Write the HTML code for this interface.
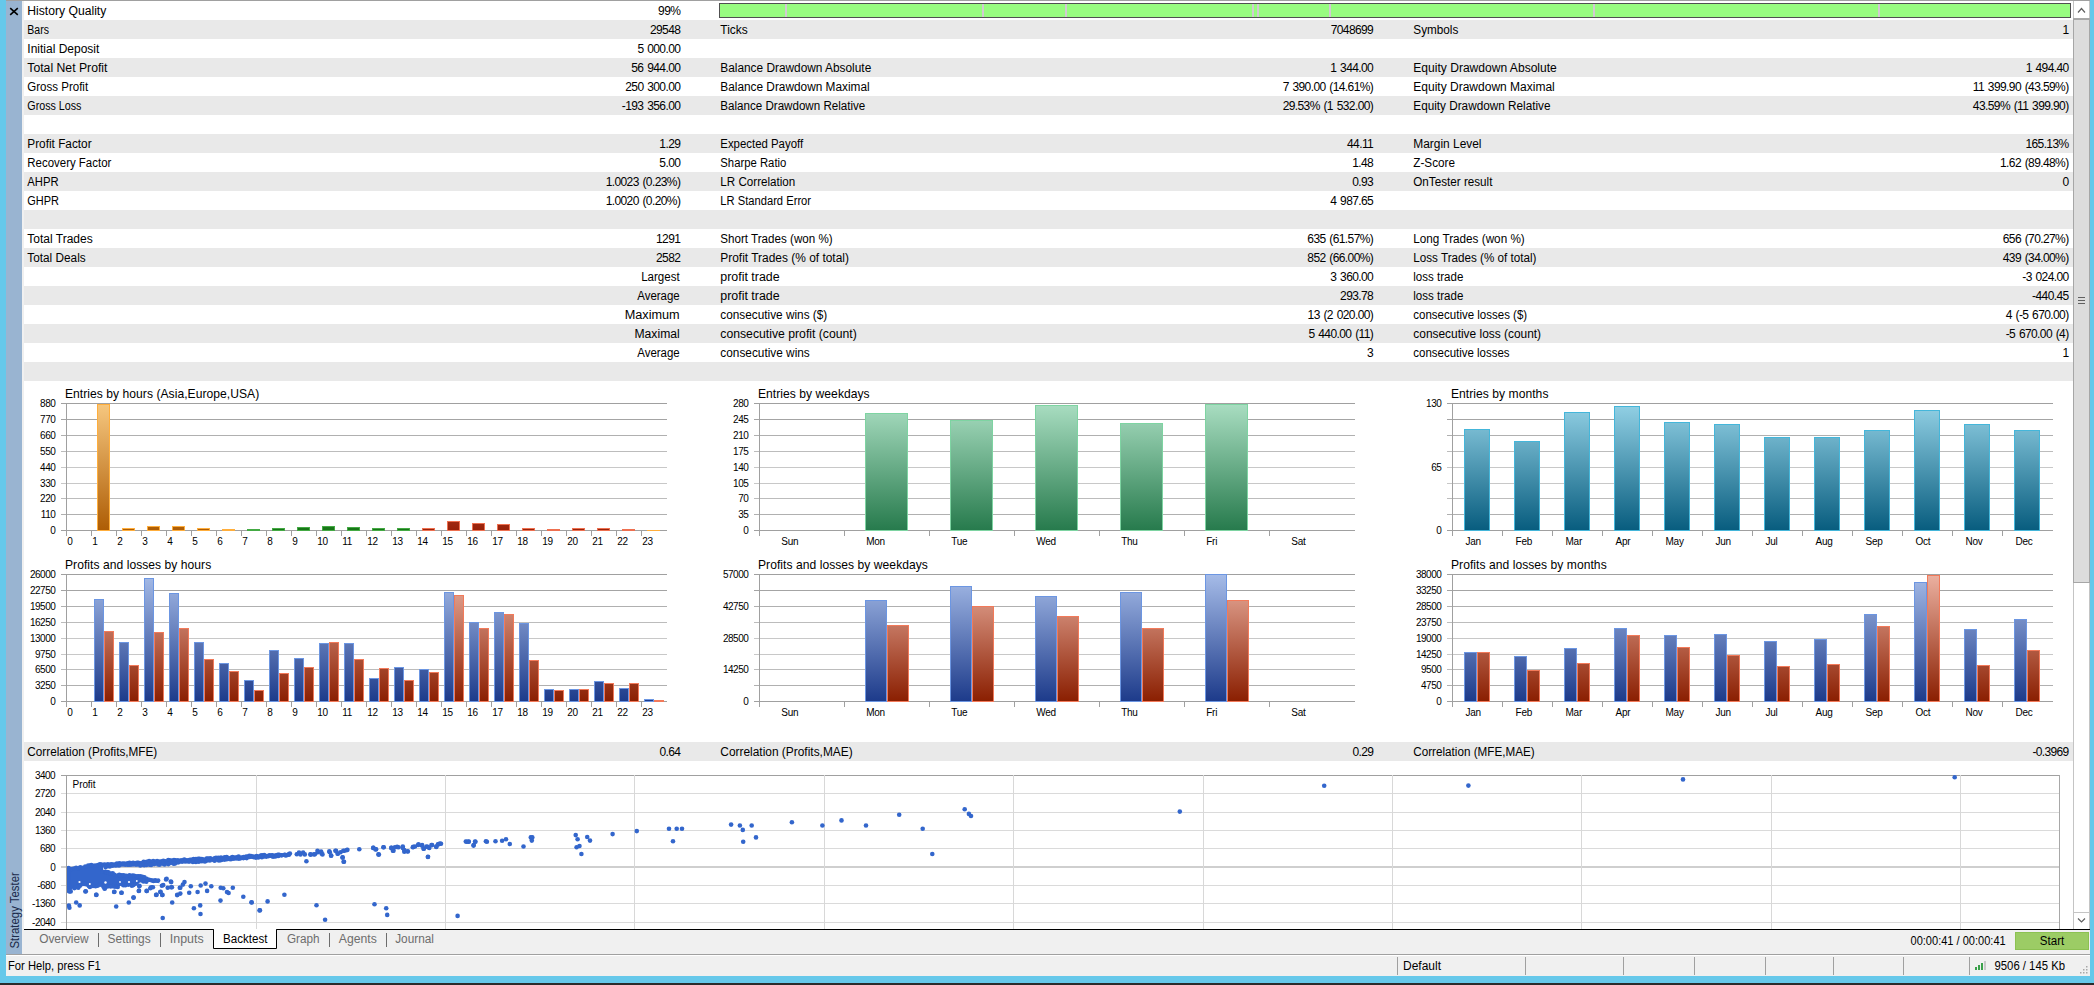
<!DOCTYPE html>
<html><head><meta charset="utf-8"><title>Strategy Tester</title>
<style>
html,body{margin:0;padding:0;width:2094px;height:985px;overflow:hidden;background:#fff;}
svg{display:block;font-family:"Liberation Sans", sans-serif;}
</style></head><body>
<svg width="2094" height="985" viewBox="0 0 2094 985" font-family='"Liberation Sans", sans-serif' shape-rendering="auto"><defs><linearGradient id="gOr" gradientUnits="userSpaceOnUse" x1="0" y1="403" x2="0" y2="531"><stop offset="0" stop-color="#f7c880"/><stop offset="1" stop-color="#ad5c04"/></linearGradient><linearGradient id="gGrH" gradientUnits="userSpaceOnUse" x1="0" y1="403" x2="0" y2="531"><stop offset="0" stop-color="#9ad89a"/><stop offset="1" stop-color="#157515"/></linearGradient><linearGradient id="gRdH" gradientUnits="userSpaceOnUse" x1="0" y1="403" x2="0" y2="531"><stop offset="0" stop-color="#eaa090"/><stop offset="1" stop-color="#982008"/></linearGradient><linearGradient id="gGr" gradientUnits="userSpaceOnUse" x1="0" y1="403" x2="0" y2="531"><stop offset="0" stop-color="#aadec2"/><stop offset="1" stop-color="#267a4c"/></linearGradient><linearGradient id="gTl" gradientUnits="userSpaceOnUse" x1="0" y1="403" x2="0" y2="531"><stop offset="0" stop-color="#94d2e6"/><stop offset="1" stop-color="#075c7e"/></linearGradient><linearGradient id="gBl" gradientUnits="userSpaceOnUse" x1="0" y1="574" x2="0" y2="702"><stop offset="0" stop-color="#a6bce8"/><stop offset="1" stop-color="#1c3a8a"/></linearGradient><linearGradient id="gRd" gradientUnits="userSpaceOnUse" x1="0" y1="574" x2="0" y2="702"><stop offset="0" stop-color="#ecb2a2"/><stop offset="1" stop-color="#8a1e00"/></linearGradient><clipPath id="scClip"><rect x="67" y="760" width="1992" height="169"/></clipPath></defs><rect x="0" y="0" width="2094" height="985" fill="#ffffff" />
<rect x="0" y="0" width="6" height="983" fill="#66c8ea" />
<rect x="2090" y="0" width="4" height="983" fill="#66c8ea" />
<rect x="0" y="976" width="2094" height="7" fill="#66c8ea" />
<rect x="0" y="983" width="2094" height="2" fill="#2b2b2b" />
<rect x="6" y="0" width="2084" height="1" fill="#a0a0a0"/>
<rect x="6" y="1" width="16" height="953" fill="#99b4d1" />
<rect x="22" y="1" width="2" height="929" fill="#f0f0f0" />
<path d="M10.2,8.2 L17.8,14.8 M17.8,8.2 L10.2,14.8" stroke="#000" stroke-width="1.6" fill="none"/>
<rect x="24" y="1" width="2049" height="19" fill="#ffffff" />
<rect x="24" y="20" width="2049" height="19" fill="#e9e9e9" />
<rect x="24" y="39" width="2049" height="19" fill="#ffffff" />
<rect x="24" y="58" width="2049" height="19" fill="#e9e9e9" />
<rect x="24" y="77" width="2049" height="19" fill="#ffffff" />
<rect x="24" y="96" width="2049" height="19" fill="#e9e9e9" />
<rect x="24" y="115" width="2049" height="19" fill="#ffffff" />
<rect x="24" y="134" width="2049" height="19" fill="#e9e9e9" />
<rect x="24" y="153" width="2049" height="19" fill="#ffffff" />
<rect x="24" y="172" width="2049" height="19" fill="#e9e9e9" />
<rect x="24" y="191" width="2049" height="19" fill="#ffffff" />
<rect x="24" y="210" width="2049" height="19" fill="#e9e9e9" />
<rect x="24" y="229" width="2049" height="19" fill="#ffffff" />
<rect x="24" y="248" width="2049" height="19" fill="#e9e9e9" />
<rect x="24" y="267" width="2049" height="19" fill="#ffffff" />
<rect x="24" y="286" width="2049" height="19" fill="#e9e9e9" />
<rect x="24" y="305" width="2049" height="19" fill="#ffffff" />
<rect x="24" y="324" width="2049" height="19" fill="#e9e9e9" />
<rect x="24" y="343" width="2049" height="19" fill="#ffffff" />
<rect x="24" y="362" width="2049" height="19" fill="#e9e9e9" />
<text x="27.3" y="15" font-size="12" text-anchor="start" fill="#000" textLength="79.02" lengthAdjust="spacingAndGlyphs" >History Quality</text>
<text x="680.3000000000001" y="15" font-size="12" text-anchor="end" fill="#000" letter-spacing="-0.6" word-spacing="1.0">99%</text>
<text x="27.3" y="34" font-size="12" text-anchor="start" fill="#000" textLength="21.67" lengthAdjust="spacingAndGlyphs" >Bars</text>
<text x="680.3000000000001" y="34" font-size="12" text-anchor="end" fill="#000" letter-spacing="-0.6" word-spacing="1.0">29548</text>
<text x="27.3" y="53" font-size="12" text-anchor="start" fill="#000" textLength="72.03" lengthAdjust="spacingAndGlyphs" >Initial Deposit</text>
<text x="680.3000000000001" y="53" font-size="12" text-anchor="end" fill="#000" letter-spacing="-0.6" word-spacing="1.0">5 000.00</text>
<text x="27.3" y="72" font-size="12" text-anchor="start" fill="#000" textLength="80.17" lengthAdjust="spacingAndGlyphs" >Total Net Profit</text>
<text x="680.3000000000001" y="72" font-size="12" text-anchor="end" fill="#000" letter-spacing="-0.6" word-spacing="1.0">56 944.00</text>
<text x="27.3" y="91" font-size="12" text-anchor="start" fill="#000" textLength="60.83" lengthAdjust="spacingAndGlyphs" >Gross Profit</text>
<text x="680.3000000000001" y="91" font-size="12" text-anchor="end" fill="#000" letter-spacing="-0.6" word-spacing="1.0">250 300.00</text>
<text x="27.3" y="110" font-size="12" text-anchor="start" fill="#000" textLength="54.17" lengthAdjust="spacingAndGlyphs" >Gross Loss</text>
<text x="680.3000000000001" y="110" font-size="12" text-anchor="end" fill="#000" letter-spacing="-0.6" word-spacing="1.0">-193 356.00</text>
<text x="27.3" y="148" font-size="12" text-anchor="start" fill="#000" textLength="64.33" lengthAdjust="spacingAndGlyphs" >Profit Factor</text>
<text x="680.3000000000001" y="148" font-size="12" text-anchor="end" fill="#000" letter-spacing="-0.6" word-spacing="1.0">1.29</text>
<text x="27.3" y="167" font-size="12" text-anchor="start" fill="#000" textLength="84.02" lengthAdjust="spacingAndGlyphs" >Recovery Factor</text>
<text x="680.3000000000001" y="167" font-size="12" text-anchor="end" fill="#000" letter-spacing="-0.6" word-spacing="1.0">5.00</text>
<text x="27.3" y="186" font-size="12" text-anchor="start" fill="#000" textLength="31.34" lengthAdjust="spacingAndGlyphs" >AHPR</text>
<text x="680.3000000000001" y="186" font-size="12" text-anchor="end" fill="#000" letter-spacing="-0.6" word-spacing="1.0">1.0023 (0.23%)</text>
<text x="27.3" y="205" font-size="12" text-anchor="start" fill="#000" textLength="31.67" lengthAdjust="spacingAndGlyphs" >GHPR</text>
<text x="680.3000000000001" y="205" font-size="12" text-anchor="end" fill="#000" letter-spacing="-0.6" word-spacing="1.0">1.0020 (0.20%)</text>
<text x="27.3" y="243" font-size="12" text-anchor="start" fill="#000" textLength="65.36" lengthAdjust="spacingAndGlyphs" >Total Trades</text>
<text x="680.3000000000001" y="243" font-size="12" text-anchor="end" fill="#000" letter-spacing="-0.6" word-spacing="1.0">1291</text>
<text x="27.3" y="262" font-size="12" text-anchor="start" fill="#000" textLength="58.36" lengthAdjust="spacingAndGlyphs" >Total Deals</text>
<text x="680.3000000000001" y="262" font-size="12" text-anchor="end" fill="#000" letter-spacing="-0.6" word-spacing="1.0">2582</text>
<text x="679.7" y="281" font-size="12" text-anchor="end" fill="#000" textLength="38.52" lengthAdjust="spacingAndGlyphs" >Largest</text>
<text x="679.7" y="300" font-size="12" text-anchor="end" fill="#000" textLength="42.47" lengthAdjust="spacingAndGlyphs" >Average</text>
<text x="679.7" y="319" font-size="12" text-anchor="end" fill="#000" textLength="55.02" lengthAdjust="spacingAndGlyphs" >Maximum</text>
<text x="679.7" y="338" font-size="12" text-anchor="end" fill="#000" textLength="45.19" lengthAdjust="spacingAndGlyphs" >Maximal</text>
<text x="679.7" y="357" font-size="12" text-anchor="end" fill="#000" textLength="42.47" lengthAdjust="spacingAndGlyphs" >Average</text>
<text x="720.3" y="34" font-size="12" text-anchor="start" fill="#000" textLength="27.36" lengthAdjust="spacingAndGlyphs" >Ticks</text>
<text x="1373.1999999999998" y="34" font-size="12" text-anchor="end" fill="#000" letter-spacing="-0.6" word-spacing="1.0">7048699</text>
<text x="720.3" y="72" font-size="12" text-anchor="start" fill="#000" textLength="150.95" lengthAdjust="spacingAndGlyphs" >Balance Drawdown Absolute</text>
<text x="1373.1999999999998" y="72" font-size="12" text-anchor="end" fill="#000" letter-spacing="-0.6" word-spacing="1.0">1 344.00</text>
<text x="720.3" y="91" font-size="12" text-anchor="start" fill="#000" textLength="149.31" lengthAdjust="spacingAndGlyphs" >Balance Drawdown Maximal</text>
<text x="1373.1999999999998" y="91" font-size="12" text-anchor="end" fill="#000" letter-spacing="-0.6" word-spacing="1.0">7 390.00 (14.61%)</text>
<text x="720.3" y="110" font-size="12" text-anchor="start" fill="#000" textLength="144.98" lengthAdjust="spacingAndGlyphs" >Balance Drawdown Relative</text>
<text x="1373.1999999999998" y="110" font-size="12" text-anchor="end" fill="#000" letter-spacing="-0.6" word-spacing="1.0">29.53% (1 532.00)</text>
<text x="720.3" y="148" font-size="12" text-anchor="start" fill="#000" textLength="82.83" lengthAdjust="spacingAndGlyphs" >Expected Payoff</text>
<text x="1373.1999999999998" y="148" font-size="12" text-anchor="end" fill="#000" letter-spacing="-0.6" word-spacing="1.0">44.11</text>
<text x="720.3" y="167" font-size="12" text-anchor="start" fill="#000" textLength="66.03" lengthAdjust="spacingAndGlyphs" >Sharpe Ratio</text>
<text x="1373.1999999999998" y="167" font-size="12" text-anchor="end" fill="#000" letter-spacing="-0.6" word-spacing="1.0">1.48</text>
<text x="720.3" y="186" font-size="12" text-anchor="start" fill="#000" textLength="74.97" lengthAdjust="spacingAndGlyphs" >LR Correlation</text>
<text x="1373.1999999999998" y="186" font-size="12" text-anchor="end" fill="#000" letter-spacing="-0.6" word-spacing="1.0">0.93</text>
<text x="720.3" y="205" font-size="12" text-anchor="start" fill="#000" textLength="90.76" lengthAdjust="spacingAndGlyphs" >LR Standard Error</text>
<text x="1373.1999999999998" y="205" font-size="12" text-anchor="end" fill="#000" letter-spacing="-0.6" word-spacing="1.0">4 987.65</text>
<text x="720.3" y="243" font-size="12" text-anchor="start" fill="#000" textLength="112.33" lengthAdjust="spacingAndGlyphs" >Short Trades (won %)</text>
<text x="1373.1999999999998" y="243" font-size="12" text-anchor="end" fill="#000" letter-spacing="-0.6" word-spacing="1.0">635 (61.57%)</text>
<text x="720.3" y="262" font-size="12" text-anchor="start" fill="#000" textLength="128.64" lengthAdjust="spacingAndGlyphs" >Profit Trades (% of total)</text>
<text x="1373.1999999999998" y="262" font-size="12" text-anchor="end" fill="#000" letter-spacing="-0.6" word-spacing="1.0">852 (66.00%)</text>
<text x="720.3" y="281" font-size="12" text-anchor="start" fill="#000" textLength="59.34" lengthAdjust="spacingAndGlyphs" >profit trade</text>
<text x="1373.1999999999998" y="281" font-size="12" text-anchor="end" fill="#000" letter-spacing="-0.6" word-spacing="1.0">3 360.00</text>
<text x="720.3" y="300" font-size="12" text-anchor="start" fill="#000" textLength="59.34" lengthAdjust="spacingAndGlyphs" >profit trade</text>
<text x="1373.1999999999998" y="300" font-size="12" text-anchor="end" fill="#000" letter-spacing="-0.6" word-spacing="1.0">293.78</text>
<text x="720.3" y="319" font-size="12" text-anchor="start" fill="#000" textLength="107.0" lengthAdjust="spacingAndGlyphs" >consecutive wins ($)</text>
<text x="1373.1999999999998" y="319" font-size="12" text-anchor="end" fill="#000" letter-spacing="-0.6" word-spacing="1.0">13 (2 020.00)</text>
<text x="720.3" y="338" font-size="12" text-anchor="start" fill="#000" textLength="136.53" lengthAdjust="spacingAndGlyphs" >consecutive profit (count)</text>
<text x="1373.1999999999998" y="338" font-size="12" text-anchor="end" fill="#000" letter-spacing="-0.6" word-spacing="1.0">5 440.00 (11)</text>
<text x="720.3" y="357" font-size="12" text-anchor="start" fill="#000" textLength="89.5" lengthAdjust="spacingAndGlyphs" >consecutive wins</text>
<text x="1373.1999999999998" y="357" font-size="12" text-anchor="end" fill="#000" letter-spacing="-0.6" word-spacing="1.0">3</text>
<text x="1413.3" y="34" font-size="12" text-anchor="start" fill="#000" textLength="45.02" lengthAdjust="spacingAndGlyphs" >Symbols</text>
<text x="2068.6" y="34" font-size="12" text-anchor="end" fill="#000" letter-spacing="-0.6" word-spacing="1.0">1</text>
<text x="1413.3" y="72" font-size="12" text-anchor="start" fill="#000" textLength="143.53" lengthAdjust="spacingAndGlyphs" >Equity Drawdown Absolute</text>
<text x="2068.6" y="72" font-size="12" text-anchor="end" fill="#000" letter-spacing="-0.6" word-spacing="1.0">1 494.40</text>
<text x="1413.3" y="91" font-size="12" text-anchor="start" fill="#000" textLength="141.49" lengthAdjust="spacingAndGlyphs" >Equity Drawdown Maximal</text>
<text x="2068.6" y="91" font-size="12" text-anchor="end" fill="#000" letter-spacing="-0.6" word-spacing="1.0">11 399.90 (43.59%)</text>
<text x="1413.3" y="110" font-size="12" text-anchor="start" fill="#000" textLength="137.16" lengthAdjust="spacingAndGlyphs" >Equity Drawdown Relative</text>
<text x="2068.6" y="110" font-size="12" text-anchor="end" fill="#000" letter-spacing="-0.6" word-spacing="1.0">43.59% (11 399.90)</text>
<text x="1413.3" y="148" font-size="12" text-anchor="start" fill="#000" textLength="68.2" lengthAdjust="spacingAndGlyphs" >Margin Level</text>
<text x="2068.6" y="148" font-size="12" text-anchor="end" fill="#000" letter-spacing="-0.6" word-spacing="1.0">165.13%</text>
<text x="1413.3" y="167" font-size="12" text-anchor="start" fill="#000" textLength="41.67" lengthAdjust="spacingAndGlyphs" >Z-Score</text>
<text x="2068.6" y="167" font-size="12" text-anchor="end" fill="#000" letter-spacing="-0.6" word-spacing="1.0">1.62 (89.48%)</text>
<text x="1413.3" y="186" font-size="12" text-anchor="start" fill="#000" textLength="79.14" lengthAdjust="spacingAndGlyphs" >OnTester result</text>
<text x="2068.6" y="186" font-size="12" text-anchor="end" fill="#000" letter-spacing="-0.6" word-spacing="1.0">0</text>
<text x="1413.3" y="243" font-size="12" text-anchor="start" fill="#000" textLength="111.45" lengthAdjust="spacingAndGlyphs" >Long Trades (won %)</text>
<text x="2068.6" y="243" font-size="12" text-anchor="end" fill="#000" letter-spacing="-0.6" word-spacing="1.0">656 (70.27%)</text>
<text x="1413.3" y="262" font-size="12" text-anchor="start" fill="#000" textLength="123.09" lengthAdjust="spacingAndGlyphs" >Loss Trades (% of total)</text>
<text x="2068.6" y="262" font-size="12" text-anchor="end" fill="#000" letter-spacing="-0.6" word-spacing="1.0">439 (34.00%)</text>
<text x="1413.3" y="281" font-size="12" text-anchor="start" fill="#000" textLength="50.02" lengthAdjust="spacingAndGlyphs" >loss trade</text>
<text x="2068.6" y="281" font-size="12" text-anchor="end" fill="#000" letter-spacing="-0.6" word-spacing="1.0">-3 024.00</text>
<text x="1413.3" y="300" font-size="12" text-anchor="start" fill="#000" textLength="50.02" lengthAdjust="spacingAndGlyphs" >loss trade</text>
<text x="2068.6" y="300" font-size="12" text-anchor="end" fill="#000" letter-spacing="-0.6" word-spacing="1.0">-440.45</text>
<text x="1413.3" y="319" font-size="12" text-anchor="start" fill="#000" textLength="113.9" lengthAdjust="spacingAndGlyphs" >consecutive losses ($)</text>
<text x="2068.6" y="319" font-size="12" text-anchor="end" fill="#000" letter-spacing="-0.6" word-spacing="1.0">4 (-5 670.00)</text>
<text x="1413.3" y="338" font-size="12" text-anchor="start" fill="#000" textLength="127.8" lengthAdjust="spacingAndGlyphs" >consecutive loss (count)</text>
<text x="2068.6" y="338" font-size="12" text-anchor="end" fill="#000" letter-spacing="-0.6" word-spacing="1.0">-5 670.00 (4)</text>
<text x="1413.3" y="357" font-size="12" text-anchor="start" fill="#000" textLength="96.3" lengthAdjust="spacingAndGlyphs" >consecutive losses</text>
<text x="2068.6" y="357" font-size="12" text-anchor="end" fill="#000" letter-spacing="-0.6" word-spacing="1.0">1</text>
<rect x="719.5" y="3.5" width="1351" height="14" fill="#98fc80" stroke="#505050" stroke-width="1"/>
<rect x="785" y="4" width="2" height="13" fill="#d2cad2" />
<rect x="982" y="4" width="2" height="13" fill="#d2cad2" />
<rect x="1065" y="4" width="2" height="13" fill="#d2cad2" />
<rect x="1252" y="4" width="2" height="13" fill="#d2cad2" />
<rect x="1257" y="4" width="2" height="13" fill="#d2cad2" />
<rect x="1329" y="4" width="2" height="13" fill="#d2cad2" />
<rect x="1593" y="4" width="2" height="13" fill="#d2cad2" />
<rect x="1878" y="4" width="2" height="13" fill="#d2cad2" />
<rect x="61" y="403" width="606" height="1" fill="#a0a0a0"/>
<rect x="61" y="419" width="606" height="1" fill="#a4a4a4"/>
<rect x="61" y="435" width="606" height="1" fill="#b0b0b0"/>
<rect x="61" y="451" width="606" height="1" fill="#bcbcbc"/>
<rect x="61" y="467" width="606" height="1" fill="#c8c8c8"/>
<rect x="61" y="483" width="606" height="1" fill="#c8c8c8"/>
<rect x="61" y="498" width="606" height="1" fill="#bcbcbc"/>
<rect x="61" y="514" width="606" height="1" fill="#b0b0b0"/>
<rect x="61" y="530" width="606" height="1" fill="#a0a0a0"/>
<rect x="66" y="403" width="1" height="133" fill="#a0a0a0"/>
<rect x="91" y="530" width="1" height="6" fill="#a0a0a0"/>
<rect x="116" y="530" width="1" height="6" fill="#a0a0a0"/>
<rect x="141" y="530" width="1" height="6" fill="#a0a0a0"/>
<rect x="166" y="530" width="1" height="6" fill="#a0a0a0"/>
<rect x="191" y="530" width="1" height="6" fill="#a0a0a0"/>
<rect x="216" y="530" width="1" height="6" fill="#a0a0a0"/>
<rect x="241" y="530" width="1" height="6" fill="#a0a0a0"/>
<rect x="266" y="530" width="1" height="6" fill="#a0a0a0"/>
<rect x="291" y="530" width="1" height="6" fill="#a0a0a0"/>
<rect x="316" y="530" width="1" height="6" fill="#a0a0a0"/>
<rect x="341" y="530" width="1" height="6" fill="#a0a0a0"/>
<rect x="366" y="530" width="1" height="6" fill="#a0a0a0"/>
<rect x="391" y="530" width="1" height="6" fill="#a0a0a0"/>
<rect x="416" y="530" width="1" height="6" fill="#a0a0a0"/>
<rect x="441" y="530" width="1" height="6" fill="#a0a0a0"/>
<rect x="466" y="530" width="1" height="6" fill="#a0a0a0"/>
<rect x="491" y="530" width="1" height="6" fill="#a0a0a0"/>
<rect x="516" y="530" width="1" height="6" fill="#a0a0a0"/>
<rect x="541" y="530" width="1" height="6" fill="#a0a0a0"/>
<rect x="566" y="530" width="1" height="6" fill="#a0a0a0"/>
<rect x="591" y="530" width="1" height="6" fill="#a0a0a0"/>
<rect x="616" y="530" width="1" height="6" fill="#a0a0a0"/>
<rect x="641" y="530" width="1" height="6" fill="#a0a0a0"/>
<text x="55.3" y="407" font-size="10" text-anchor="end" fill="#000" letter-spacing="-0.5" >880</text>
<text x="55.3" y="423" font-size="10" text-anchor="end" fill="#000" letter-spacing="-0.5" >770</text>
<text x="55.3" y="439" font-size="10" text-anchor="end" fill="#000" letter-spacing="-0.5" >660</text>
<text x="55.3" y="455" font-size="10" text-anchor="end" fill="#000" letter-spacing="-0.5" >550</text>
<text x="55.3" y="471" font-size="10" text-anchor="end" fill="#000" letter-spacing="-0.5" >440</text>
<text x="55.3" y="487" font-size="10" text-anchor="end" fill="#000" letter-spacing="-0.5" >330</text>
<text x="55.3" y="502" font-size="10" text-anchor="end" fill="#000" letter-spacing="-0.5" >220</text>
<text x="55.3" y="518" font-size="10" text-anchor="end" fill="#000" letter-spacing="-0.5" >110</text>
<text x="55.3" y="534" font-size="10" text-anchor="end" fill="#000" letter-spacing="-0.5" >0</text>
<text x="65.0" y="397.5" font-size="12.1" text-anchor="start" fill="#000" letter-spacing="0.04" >Entries by hours (Asia,Europe,USA)</text>
<text x="67.3" y="545" font-size="10" text-anchor="start" fill="#000" letter-spacing="-0.4" >0</text>
<text x="92.3" y="545" font-size="10" text-anchor="start" fill="#000" letter-spacing="-0.4" >1</text>
<text x="117.3" y="545" font-size="10" text-anchor="start" fill="#000" letter-spacing="-0.4" >2</text>
<text x="142.3" y="545" font-size="10" text-anchor="start" fill="#000" letter-spacing="-0.4" >3</text>
<text x="167.3" y="545" font-size="10" text-anchor="start" fill="#000" letter-spacing="-0.4" >4</text>
<text x="192.3" y="545" font-size="10" text-anchor="start" fill="#000" letter-spacing="-0.4" >5</text>
<text x="217.3" y="545" font-size="10" text-anchor="start" fill="#000" letter-spacing="-0.4" >6</text>
<text x="242.3" y="545" font-size="10" text-anchor="start" fill="#000" letter-spacing="-0.4" >7</text>
<text x="267.3" y="545" font-size="10" text-anchor="start" fill="#000" letter-spacing="-0.4" >8</text>
<text x="292.3" y="545" font-size="10" text-anchor="start" fill="#000" letter-spacing="-0.4" >9</text>
<text x="317.3" y="545" font-size="10" text-anchor="start" fill="#000" letter-spacing="-0.4" >10</text>
<text x="342.3" y="545" font-size="10" text-anchor="start" fill="#000" letter-spacing="-0.4" >11</text>
<text x="367.3" y="545" font-size="10" text-anchor="start" fill="#000" letter-spacing="-0.4" >12</text>
<text x="392.3" y="545" font-size="10" text-anchor="start" fill="#000" letter-spacing="-0.4" >13</text>
<text x="417.3" y="545" font-size="10" text-anchor="start" fill="#000" letter-spacing="-0.4" >14</text>
<text x="442.3" y="545" font-size="10" text-anchor="start" fill="#000" letter-spacing="-0.4" >15</text>
<text x="467.3" y="545" font-size="10" text-anchor="start" fill="#000" letter-spacing="-0.4" >16</text>
<text x="492.3" y="545" font-size="10" text-anchor="start" fill="#000" letter-spacing="-0.4" >17</text>
<text x="517.3" y="545" font-size="10" text-anchor="start" fill="#000" letter-spacing="-0.4" >18</text>
<text x="542.3" y="545" font-size="10" text-anchor="start" fill="#000" letter-spacing="-0.4" >19</text>
<text x="567.3" y="545" font-size="10" text-anchor="start" fill="#000" letter-spacing="-0.4" >20</text>
<text x="592.3" y="545" font-size="10" text-anchor="start" fill="#000" letter-spacing="-0.4" >21</text>
<text x="617.3" y="545" font-size="10" text-anchor="start" fill="#000" letter-spacing="-0.4" >22</text>
<text x="642.3" y="545" font-size="10" text-anchor="start" fill="#000" letter-spacing="-0.4" >23</text>
<rect x="97.5" y="404.5" width="12" height="126" fill="url(#gOr)" stroke="#ffae3c" stroke-width="1"/>
<rect x="122.5" y="528.5" width="12" height="2" fill="url(#gOr)" stroke="#ffae3c" stroke-width="1"/>
<rect x="147.5" y="526.5" width="12" height="4" fill="url(#gOr)" stroke="#ffae3c" stroke-width="1"/>
<rect x="172.5" y="526.5" width="12" height="4" fill="url(#gOr)" stroke="#ffae3c" stroke-width="1"/>
<rect x="197.5" y="528.5" width="12" height="2" fill="url(#gOr)" stroke="#ffae3c" stroke-width="1"/>
<rect x="222" y="529" width="13" height="2" fill="#ffae3c" />
<rect x="247" y="529" width="13" height="2" fill="#44aa44" />
<rect x="272.5" y="528.5" width="12" height="2" fill="url(#gGrH)" stroke="#44aa44" stroke-width="1"/>
<rect x="297.5" y="527.5" width="12" height="3" fill="url(#gGrH)" stroke="#44aa44" stroke-width="1"/>
<rect x="322.5" y="526.5" width="12" height="4" fill="url(#gGrH)" stroke="#44aa44" stroke-width="1"/>
<rect x="347.5" y="527.5" width="12" height="3" fill="url(#gGrH)" stroke="#44aa44" stroke-width="1"/>
<rect x="372.5" y="528.5" width="12" height="2" fill="url(#gGrH)" stroke="#44aa44" stroke-width="1"/>
<rect x="397.5" y="528.5" width="12" height="2" fill="url(#gGrH)" stroke="#44aa44" stroke-width="1"/>
<rect x="422.5" y="528.5" width="12" height="2" fill="url(#gRdH)" stroke="#ee7050" stroke-width="1"/>
<rect x="447.5" y="521.5" width="12" height="9" fill="url(#gRdH)" stroke="#ee7050" stroke-width="1"/>
<rect x="472.5" y="523.5" width="12" height="7" fill="url(#gRdH)" stroke="#ee7050" stroke-width="1"/>
<rect x="497.5" y="524.5" width="12" height="6" fill="url(#gRdH)" stroke="#ee7050" stroke-width="1"/>
<rect x="522.5" y="528.5" width="12" height="2" fill="url(#gRdH)" stroke="#ee7050" stroke-width="1"/>
<rect x="547" y="529" width="13" height="2" fill="#ee7050" />
<rect x="572.5" y="528.5" width="12" height="2" fill="url(#gRdH)" stroke="#ee7050" stroke-width="1"/>
<rect x="597.5" y="528.5" width="12" height="2" fill="url(#gRdH)" stroke="#ee7050" stroke-width="1"/>
<rect x="622" y="529" width="13" height="2" fill="#ee7050" />
<rect x="647" y="530" width="13" height="1" fill="#ffae3c" />
<rect x="754" y="403" width="601" height="1" fill="#a0a0a0"/>
<rect x="754" y="419" width="601" height="1" fill="#a4a4a4"/>
<rect x="754" y="435" width="601" height="1" fill="#b0b0b0"/>
<rect x="754" y="451" width="601" height="1" fill="#bcbcbc"/>
<rect x="754" y="467" width="601" height="1" fill="#c8c8c8"/>
<rect x="754" y="483" width="601" height="1" fill="#c8c8c8"/>
<rect x="754" y="498" width="601" height="1" fill="#bcbcbc"/>
<rect x="754" y="514" width="601" height="1" fill="#b0b0b0"/>
<rect x="754" y="530" width="601" height="1" fill="#a0a0a0"/>
<rect x="759" y="403" width="1" height="133" fill="#a0a0a0"/>
<rect x="844" y="530" width="1" height="6" fill="#a0a0a0"/>
<rect x="929" y="530" width="1" height="6" fill="#a0a0a0"/>
<rect x="1014" y="530" width="1" height="6" fill="#a0a0a0"/>
<rect x="1099" y="530" width="1" height="6" fill="#a0a0a0"/>
<rect x="1184" y="530" width="1" height="6" fill="#a0a0a0"/>
<rect x="1269" y="530" width="1" height="6" fill="#a0a0a0"/>
<text x="748.3" y="407" font-size="10" text-anchor="end" fill="#000" letter-spacing="-0.5" >280</text>
<text x="748.3" y="423" font-size="10" text-anchor="end" fill="#000" letter-spacing="-0.5" >245</text>
<text x="748.3" y="439" font-size="10" text-anchor="end" fill="#000" letter-spacing="-0.5" >210</text>
<text x="748.3" y="455" font-size="10" text-anchor="end" fill="#000" letter-spacing="-0.5" >175</text>
<text x="748.3" y="471" font-size="10" text-anchor="end" fill="#000" letter-spacing="-0.5" >140</text>
<text x="748.3" y="487" font-size="10" text-anchor="end" fill="#000" letter-spacing="-0.5" >105</text>
<text x="748.3" y="502" font-size="10" text-anchor="end" fill="#000" letter-spacing="-0.5" >70</text>
<text x="748.3" y="518" font-size="10" text-anchor="end" fill="#000" letter-spacing="-0.5" >35</text>
<text x="748.3" y="534" font-size="10" text-anchor="end" fill="#000" letter-spacing="-0.5" >0</text>
<text x="758.0" y="397.5" font-size="12.1" text-anchor="start" fill="#000" letter-spacing="0.04" >Entries by weekdays</text>
<text x="781.3" y="545" font-size="10" text-anchor="start" fill="#000" letter-spacing="-0.3" >Sun</text>
<text x="866.3" y="545" font-size="10" text-anchor="start" fill="#000" letter-spacing="-0.3" >Mon</text>
<text x="951.3" y="545" font-size="10" text-anchor="start" fill="#000" letter-spacing="-0.3" >Tue</text>
<text x="1036.3" y="545" font-size="10" text-anchor="start" fill="#000" letter-spacing="-0.3" >Wed</text>
<text x="1121.3" y="545" font-size="10" text-anchor="start" fill="#000" letter-spacing="-0.3" >Thu</text>
<text x="1206.3" y="545" font-size="10" text-anchor="start" fill="#000" letter-spacing="-0.3" >Fri</text>
<text x="1291.3" y="545" font-size="10" text-anchor="start" fill="#000" letter-spacing="-0.3" >Sat</text>
<rect x="865.5" y="413.5" width="42" height="117" fill="url(#gGr)" stroke="#7ed4a2" stroke-width="1"/>
<rect x="950.5" y="420.5" width="42" height="110" fill="url(#gGr)" stroke="#7ed4a2" stroke-width="1"/>
<rect x="1035.5" y="405.5" width="42" height="125" fill="url(#gGr)" stroke="#7ed4a2" stroke-width="1"/>
<rect x="1120.5" y="423.5" width="42" height="107" fill="url(#gGr)" stroke="#7ed4a2" stroke-width="1"/>
<rect x="1205.5" y="404.5" width="42" height="126" fill="url(#gGr)" stroke="#7ed4a2" stroke-width="1"/>
<rect x="1447" y="403" width="606" height="1" fill="#a0a0a0"/>
<rect x="1447" y="419" width="606" height="1" fill="#a4a4a4"/>
<rect x="1447" y="435" width="606" height="1" fill="#b0b0b0"/>
<rect x="1447" y="451" width="606" height="1" fill="#bcbcbc"/>
<rect x="1447" y="467" width="606" height="1" fill="#c8c8c8"/>
<rect x="1447" y="483" width="606" height="1" fill="#c8c8c8"/>
<rect x="1447" y="498" width="606" height="1" fill="#bcbcbc"/>
<rect x="1447" y="514" width="606" height="1" fill="#b0b0b0"/>
<rect x="1447" y="530" width="606" height="1" fill="#a0a0a0"/>
<rect x="1452" y="403" width="1" height="133" fill="#a0a0a0"/>
<rect x="1502" y="530" width="1" height="6" fill="#a0a0a0"/>
<rect x="1552" y="530" width="1" height="6" fill="#a0a0a0"/>
<rect x="1602" y="530" width="1" height="6" fill="#a0a0a0"/>
<rect x="1652" y="530" width="1" height="6" fill="#a0a0a0"/>
<rect x="1702" y="530" width="1" height="6" fill="#a0a0a0"/>
<rect x="1752" y="530" width="1" height="6" fill="#a0a0a0"/>
<rect x="1802" y="530" width="1" height="6" fill="#a0a0a0"/>
<rect x="1852" y="530" width="1" height="6" fill="#a0a0a0"/>
<rect x="1902" y="530" width="1" height="6" fill="#a0a0a0"/>
<rect x="1952" y="530" width="1" height="6" fill="#a0a0a0"/>
<rect x="2002" y="530" width="1" height="6" fill="#a0a0a0"/>
<text x="1441.3" y="407" font-size="10" text-anchor="end" fill="#000" letter-spacing="-0.5" >130</text>
<text x="1441.3" y="471" font-size="10" text-anchor="end" fill="#000" letter-spacing="-0.5" >65</text>
<text x="1441.3" y="534" font-size="10" text-anchor="end" fill="#000" letter-spacing="-0.5" >0</text>
<text x="1451.0" y="397.5" font-size="12.1" text-anchor="start" fill="#000" letter-spacing="0.04" >Entries by months</text>
<text x="1465.6" y="545" font-size="10" text-anchor="start" fill="#000" letter-spacing="-0.3" >Jan</text>
<text x="1515.6" y="545" font-size="10" text-anchor="start" fill="#000" letter-spacing="-0.3" >Feb</text>
<text x="1565.6" y="545" font-size="10" text-anchor="start" fill="#000" letter-spacing="-0.3" >Mar</text>
<text x="1615.6" y="545" font-size="10" text-anchor="start" fill="#000" letter-spacing="-0.3" >Apr</text>
<text x="1665.6" y="545" font-size="10" text-anchor="start" fill="#000" letter-spacing="-0.3" >May</text>
<text x="1715.6" y="545" font-size="10" text-anchor="start" fill="#000" letter-spacing="-0.3" >Jun</text>
<text x="1765.6" y="545" font-size="10" text-anchor="start" fill="#000" letter-spacing="-0.3" >Jul</text>
<text x="1815.6" y="545" font-size="10" text-anchor="start" fill="#000" letter-spacing="-0.3" >Aug</text>
<text x="1865.6" y="545" font-size="10" text-anchor="start" fill="#000" letter-spacing="-0.3" >Sep</text>
<text x="1915.6" y="545" font-size="10" text-anchor="start" fill="#000" letter-spacing="-0.3" >Oct</text>
<text x="1965.6" y="545" font-size="10" text-anchor="start" fill="#000" letter-spacing="-0.3" >Nov</text>
<text x="2015.6" y="545" font-size="10" text-anchor="start" fill="#000" letter-spacing="-0.3" >Dec</text>
<rect x="1464.5" y="429.5" width="25" height="101" fill="url(#gTl)" stroke="#44b6da" stroke-width="1"/>
<rect x="1514.5" y="441.5" width="25" height="89" fill="url(#gTl)" stroke="#44b6da" stroke-width="1"/>
<rect x="1564.5" y="412.5" width="25" height="118" fill="url(#gTl)" stroke="#44b6da" stroke-width="1"/>
<rect x="1614.5" y="406.5" width="25" height="124" fill="url(#gTl)" stroke="#44b6da" stroke-width="1"/>
<rect x="1664.5" y="422.5" width="25" height="108" fill="url(#gTl)" stroke="#44b6da" stroke-width="1"/>
<rect x="1714.5" y="424.5" width="25" height="106" fill="url(#gTl)" stroke="#44b6da" stroke-width="1"/>
<rect x="1764.5" y="437.5" width="25" height="93" fill="url(#gTl)" stroke="#44b6da" stroke-width="1"/>
<rect x="1814.5" y="437.5" width="25" height="93" fill="url(#gTl)" stroke="#44b6da" stroke-width="1"/>
<rect x="1864.5" y="430.5" width="25" height="100" fill="url(#gTl)" stroke="#44b6da" stroke-width="1"/>
<rect x="1914.5" y="410.5" width="25" height="120" fill="url(#gTl)" stroke="#44b6da" stroke-width="1"/>
<rect x="1964.5" y="424.5" width="25" height="106" fill="url(#gTl)" stroke="#44b6da" stroke-width="1"/>
<rect x="2014.5" y="430.5" width="25" height="100" fill="url(#gTl)" stroke="#44b6da" stroke-width="1"/>
<rect x="61" y="574" width="606" height="1" fill="#a0a0a0"/>
<rect x="61" y="590" width="606" height="1" fill="#a4a4a4"/>
<rect x="61" y="606" width="606" height="1" fill="#b0b0b0"/>
<rect x="61" y="622" width="606" height="1" fill="#bcbcbc"/>
<rect x="61" y="638" width="606" height="1" fill="#c8c8c8"/>
<rect x="61" y="654" width="606" height="1" fill="#c8c8c8"/>
<rect x="61" y="669" width="606" height="1" fill="#bcbcbc"/>
<rect x="61" y="685" width="606" height="1" fill="#b0b0b0"/>
<rect x="61" y="701" width="606" height="1" fill="#a0a0a0"/>
<rect x="66" y="574" width="1" height="133" fill="#a0a0a0"/>
<rect x="91" y="701" width="1" height="6" fill="#a0a0a0"/>
<rect x="116" y="701" width="1" height="6" fill="#a0a0a0"/>
<rect x="141" y="701" width="1" height="6" fill="#a0a0a0"/>
<rect x="166" y="701" width="1" height="6" fill="#a0a0a0"/>
<rect x="191" y="701" width="1" height="6" fill="#a0a0a0"/>
<rect x="216" y="701" width="1" height="6" fill="#a0a0a0"/>
<rect x="241" y="701" width="1" height="6" fill="#a0a0a0"/>
<rect x="266" y="701" width="1" height="6" fill="#a0a0a0"/>
<rect x="291" y="701" width="1" height="6" fill="#a0a0a0"/>
<rect x="316" y="701" width="1" height="6" fill="#a0a0a0"/>
<rect x="341" y="701" width="1" height="6" fill="#a0a0a0"/>
<rect x="366" y="701" width="1" height="6" fill="#a0a0a0"/>
<rect x="391" y="701" width="1" height="6" fill="#a0a0a0"/>
<rect x="416" y="701" width="1" height="6" fill="#a0a0a0"/>
<rect x="441" y="701" width="1" height="6" fill="#a0a0a0"/>
<rect x="466" y="701" width="1" height="6" fill="#a0a0a0"/>
<rect x="491" y="701" width="1" height="6" fill="#a0a0a0"/>
<rect x="516" y="701" width="1" height="6" fill="#a0a0a0"/>
<rect x="541" y="701" width="1" height="6" fill="#a0a0a0"/>
<rect x="566" y="701" width="1" height="6" fill="#a0a0a0"/>
<rect x="591" y="701" width="1" height="6" fill="#a0a0a0"/>
<rect x="616" y="701" width="1" height="6" fill="#a0a0a0"/>
<rect x="641" y="701" width="1" height="6" fill="#a0a0a0"/>
<text x="55.3" y="578" font-size="10" text-anchor="end" fill="#000" letter-spacing="-0.5" >26000</text>
<text x="55.3" y="594" font-size="10" text-anchor="end" fill="#000" letter-spacing="-0.5" >22750</text>
<text x="55.3" y="610" font-size="10" text-anchor="end" fill="#000" letter-spacing="-0.5" >19500</text>
<text x="55.3" y="626" font-size="10" text-anchor="end" fill="#000" letter-spacing="-0.5" >16250</text>
<text x="55.3" y="642" font-size="10" text-anchor="end" fill="#000" letter-spacing="-0.5" >13000</text>
<text x="55.3" y="658" font-size="10" text-anchor="end" fill="#000" letter-spacing="-0.5" >9750</text>
<text x="55.3" y="673" font-size="10" text-anchor="end" fill="#000" letter-spacing="-0.5" >6500</text>
<text x="55.3" y="689" font-size="10" text-anchor="end" fill="#000" letter-spacing="-0.5" >3250</text>
<text x="55.3" y="705" font-size="10" text-anchor="end" fill="#000" letter-spacing="-0.5" >0</text>
<text x="65.0" y="568.5" font-size="12.1" text-anchor="start" fill="#000" letter-spacing="0.04" >Profits and losses by hours</text>
<text x="67.3" y="716" font-size="10" text-anchor="start" fill="#000" letter-spacing="-0.4" >0</text>
<text x="92.3" y="716" font-size="10" text-anchor="start" fill="#000" letter-spacing="-0.4" >1</text>
<text x="117.3" y="716" font-size="10" text-anchor="start" fill="#000" letter-spacing="-0.4" >2</text>
<text x="142.3" y="716" font-size="10" text-anchor="start" fill="#000" letter-spacing="-0.4" >3</text>
<text x="167.3" y="716" font-size="10" text-anchor="start" fill="#000" letter-spacing="-0.4" >4</text>
<text x="192.3" y="716" font-size="10" text-anchor="start" fill="#000" letter-spacing="-0.4" >5</text>
<text x="217.3" y="716" font-size="10" text-anchor="start" fill="#000" letter-spacing="-0.4" >6</text>
<text x="242.3" y="716" font-size="10" text-anchor="start" fill="#000" letter-spacing="-0.4" >7</text>
<text x="267.3" y="716" font-size="10" text-anchor="start" fill="#000" letter-spacing="-0.4" >8</text>
<text x="292.3" y="716" font-size="10" text-anchor="start" fill="#000" letter-spacing="-0.4" >9</text>
<text x="317.3" y="716" font-size="10" text-anchor="start" fill="#000" letter-spacing="-0.4" >10</text>
<text x="342.3" y="716" font-size="10" text-anchor="start" fill="#000" letter-spacing="-0.4" >11</text>
<text x="367.3" y="716" font-size="10" text-anchor="start" fill="#000" letter-spacing="-0.4" >12</text>
<text x="392.3" y="716" font-size="10" text-anchor="start" fill="#000" letter-spacing="-0.4" >13</text>
<text x="417.3" y="716" font-size="10" text-anchor="start" fill="#000" letter-spacing="-0.4" >14</text>
<text x="442.3" y="716" font-size="10" text-anchor="start" fill="#000" letter-spacing="-0.4" >15</text>
<text x="467.3" y="716" font-size="10" text-anchor="start" fill="#000" letter-spacing="-0.4" >16</text>
<text x="492.3" y="716" font-size="10" text-anchor="start" fill="#000" letter-spacing="-0.4" >17</text>
<text x="517.3" y="716" font-size="10" text-anchor="start" fill="#000" letter-spacing="-0.4" >18</text>
<text x="542.3" y="716" font-size="10" text-anchor="start" fill="#000" letter-spacing="-0.4" >19</text>
<text x="567.3" y="716" font-size="10" text-anchor="start" fill="#000" letter-spacing="-0.4" >20</text>
<text x="592.3" y="716" font-size="10" text-anchor="start" fill="#000" letter-spacing="-0.4" >21</text>
<text x="617.3" y="716" font-size="10" text-anchor="start" fill="#000" letter-spacing="-0.4" >22</text>
<text x="642.3" y="716" font-size="10" text-anchor="start" fill="#000" letter-spacing="-0.4" >23</text>
<rect x="94.5" y="599.5" width="9" height="102" fill="url(#gBl)" stroke="#6c96e2" stroke-width="1"/>
<rect x="104.5" y="631.5" width="9" height="70" fill="url(#gRd)" stroke="#f27a5a" stroke-width="1"/>
<rect x="119.5" y="642.5" width="9" height="59" fill="url(#gBl)" stroke="#6c96e2" stroke-width="1"/>
<rect x="129.5" y="665.5" width="9" height="36" fill="url(#gRd)" stroke="#f27a5a" stroke-width="1"/>
<rect x="144.5" y="578.5" width="9" height="123" fill="url(#gBl)" stroke="#6c96e2" stroke-width="1"/>
<rect x="154.5" y="632.5" width="9" height="69" fill="url(#gRd)" stroke="#f27a5a" stroke-width="1"/>
<rect x="169.5" y="593.5" width="9" height="108" fill="url(#gBl)" stroke="#6c96e2" stroke-width="1"/>
<rect x="179.5" y="628.5" width="9" height="73" fill="url(#gRd)" stroke="#f27a5a" stroke-width="1"/>
<rect x="194.5" y="642.5" width="9" height="59" fill="url(#gBl)" stroke="#6c96e2" stroke-width="1"/>
<rect x="204.5" y="659.5" width="9" height="42" fill="url(#gRd)" stroke="#f27a5a" stroke-width="1"/>
<rect x="219.5" y="663.5" width="9" height="38" fill="url(#gBl)" stroke="#6c96e2" stroke-width="1"/>
<rect x="229.5" y="671.5" width="9" height="30" fill="url(#gRd)" stroke="#f27a5a" stroke-width="1"/>
<rect x="244.5" y="680.5" width="9" height="21" fill="url(#gBl)" stroke="#6c96e2" stroke-width="1"/>
<rect x="254.5" y="690.5" width="9" height="11" fill="url(#gRd)" stroke="#f27a5a" stroke-width="1"/>
<rect x="269.5" y="650.5" width="9" height="51" fill="url(#gBl)" stroke="#6c96e2" stroke-width="1"/>
<rect x="279.5" y="673.5" width="9" height="28" fill="url(#gRd)" stroke="#f27a5a" stroke-width="1"/>
<rect x="294.5" y="658.5" width="9" height="43" fill="url(#gBl)" stroke="#6c96e2" stroke-width="1"/>
<rect x="304.5" y="667.5" width="9" height="34" fill="url(#gRd)" stroke="#f27a5a" stroke-width="1"/>
<rect x="319.5" y="643.5" width="9" height="58" fill="url(#gBl)" stroke="#6c96e2" stroke-width="1"/>
<rect x="329.5" y="642.5" width="9" height="59" fill="url(#gRd)" stroke="#f27a5a" stroke-width="1"/>
<rect x="344.5" y="643.5" width="9" height="58" fill="url(#gBl)" stroke="#6c96e2" stroke-width="1"/>
<rect x="354.5" y="659.5" width="9" height="42" fill="url(#gRd)" stroke="#f27a5a" stroke-width="1"/>
<rect x="369.5" y="678.5" width="9" height="23" fill="url(#gBl)" stroke="#6c96e2" stroke-width="1"/>
<rect x="379.5" y="668.5" width="9" height="33" fill="url(#gRd)" stroke="#f27a5a" stroke-width="1"/>
<rect x="394.5" y="667.5" width="9" height="34" fill="url(#gBl)" stroke="#6c96e2" stroke-width="1"/>
<rect x="404.5" y="680.5" width="9" height="21" fill="url(#gRd)" stroke="#f27a5a" stroke-width="1"/>
<rect x="419.5" y="669.5" width="9" height="32" fill="url(#gBl)" stroke="#6c96e2" stroke-width="1"/>
<rect x="429.5" y="672.5" width="9" height="29" fill="url(#gRd)" stroke="#f27a5a" stroke-width="1"/>
<rect x="444.5" y="592.5" width="9" height="109" fill="url(#gBl)" stroke="#6c96e2" stroke-width="1"/>
<rect x="454.5" y="595.5" width="9" height="106" fill="url(#gRd)" stroke="#f27a5a" stroke-width="1"/>
<rect x="469.5" y="622.5" width="9" height="79" fill="url(#gBl)" stroke="#6c96e2" stroke-width="1"/>
<rect x="479.5" y="628.5" width="9" height="73" fill="url(#gRd)" stroke="#f27a5a" stroke-width="1"/>
<rect x="494.5" y="612.5" width="9" height="89" fill="url(#gBl)" stroke="#6c96e2" stroke-width="1"/>
<rect x="504.5" y="614.5" width="9" height="87" fill="url(#gRd)" stroke="#f27a5a" stroke-width="1"/>
<rect x="519.5" y="623.5" width="9" height="78" fill="url(#gBl)" stroke="#6c96e2" stroke-width="1"/>
<rect x="529.5" y="660.5" width="9" height="41" fill="url(#gRd)" stroke="#f27a5a" stroke-width="1"/>
<rect x="544.5" y="689.5" width="9" height="12" fill="url(#gBl)" stroke="#6c96e2" stroke-width="1"/>
<rect x="554.5" y="690.5" width="9" height="11" fill="url(#gRd)" stroke="#f27a5a" stroke-width="1"/>
<rect x="569.5" y="689.5" width="9" height="12" fill="url(#gBl)" stroke="#6c96e2" stroke-width="1"/>
<rect x="579.5" y="689.5" width="9" height="12" fill="url(#gRd)" stroke="#f27a5a" stroke-width="1"/>
<rect x="594.5" y="681.5" width="9" height="20" fill="url(#gBl)" stroke="#6c96e2" stroke-width="1"/>
<rect x="604.5" y="683.5" width="9" height="18" fill="url(#gRd)" stroke="#f27a5a" stroke-width="1"/>
<rect x="619.5" y="688.5" width="9" height="13" fill="url(#gBl)" stroke="#6c96e2" stroke-width="1"/>
<rect x="629.5" y="683.5" width="9" height="18" fill="url(#gRd)" stroke="#f27a5a" stroke-width="1"/>
<rect x="644.5" y="699.5" width="9" height="2" fill="url(#gBl)" stroke="#6c96e2" stroke-width="1"/>
<rect x="654" y="700" width="10" height="2" fill="#f27a5a" />
<rect x="754" y="574" width="601" height="1" fill="#a0a0a0"/>
<rect x="754" y="590" width="601" height="1" fill="#a4a4a4"/>
<rect x="754" y="606" width="601" height="1" fill="#b0b0b0"/>
<rect x="754" y="622" width="601" height="1" fill="#bcbcbc"/>
<rect x="754" y="638" width="601" height="1" fill="#c8c8c8"/>
<rect x="754" y="654" width="601" height="1" fill="#c8c8c8"/>
<rect x="754" y="669" width="601" height="1" fill="#bcbcbc"/>
<rect x="754" y="685" width="601" height="1" fill="#b0b0b0"/>
<rect x="754" y="701" width="601" height="1" fill="#a0a0a0"/>
<rect x="759" y="574" width="1" height="133" fill="#a0a0a0"/>
<rect x="844" y="701" width="1" height="6" fill="#a0a0a0"/>
<rect x="929" y="701" width="1" height="6" fill="#a0a0a0"/>
<rect x="1014" y="701" width="1" height="6" fill="#a0a0a0"/>
<rect x="1099" y="701" width="1" height="6" fill="#a0a0a0"/>
<rect x="1184" y="701" width="1" height="6" fill="#a0a0a0"/>
<rect x="1269" y="701" width="1" height="6" fill="#a0a0a0"/>
<text x="748.3" y="578" font-size="10" text-anchor="end" fill="#000" letter-spacing="-0.5" >57000</text>
<text x="748.3" y="610" font-size="10" text-anchor="end" fill="#000" letter-spacing="-0.5" >42750</text>
<text x="748.3" y="642" font-size="10" text-anchor="end" fill="#000" letter-spacing="-0.5" >28500</text>
<text x="748.3" y="673" font-size="10" text-anchor="end" fill="#000" letter-spacing="-0.5" >14250</text>
<text x="748.3" y="705" font-size="10" text-anchor="end" fill="#000" letter-spacing="-0.5" >0</text>
<text x="758.0" y="568.5" font-size="12.1" text-anchor="start" fill="#000" letter-spacing="0.04" >Profits and losses by weekdays</text>
<text x="781.3" y="716" font-size="10" text-anchor="start" fill="#000" letter-spacing="-0.3" >Sun</text>
<text x="866.3" y="716" font-size="10" text-anchor="start" fill="#000" letter-spacing="-0.3" >Mon</text>
<text x="951.3" y="716" font-size="10" text-anchor="start" fill="#000" letter-spacing="-0.3" >Tue</text>
<text x="1036.3" y="716" font-size="10" text-anchor="start" fill="#000" letter-spacing="-0.3" >Wed</text>
<text x="1121.3" y="716" font-size="10" text-anchor="start" fill="#000" letter-spacing="-0.3" >Thu</text>
<text x="1206.3" y="716" font-size="10" text-anchor="start" fill="#000" letter-spacing="-0.3" >Fri</text>
<text x="1291.3" y="716" font-size="10" text-anchor="start" fill="#000" letter-spacing="-0.3" >Sat</text>
<rect x="865.5" y="600.5" width="21" height="101" fill="url(#gBl)" stroke="#6c96e2" stroke-width="1"/>
<rect x="887.5" y="625.5" width="21" height="76" fill="url(#gRd)" stroke="#f27a5a" stroke-width="1"/>
<rect x="950.5" y="586.5" width="21" height="115" fill="url(#gBl)" stroke="#6c96e2" stroke-width="1"/>
<rect x="972.5" y="606.5" width="21" height="95" fill="url(#gRd)" stroke="#f27a5a" stroke-width="1"/>
<rect x="1035.5" y="596.5" width="21" height="105" fill="url(#gBl)" stroke="#6c96e2" stroke-width="1"/>
<rect x="1057.5" y="616.5" width="21" height="85" fill="url(#gRd)" stroke="#f27a5a" stroke-width="1"/>
<rect x="1120.5" y="592.5" width="21" height="109" fill="url(#gBl)" stroke="#6c96e2" stroke-width="1"/>
<rect x="1142.5" y="628.5" width="21" height="73" fill="url(#gRd)" stroke="#f27a5a" stroke-width="1"/>
<rect x="1205.5" y="574.5" width="21" height="127" fill="url(#gBl)" stroke="#6c96e2" stroke-width="1"/>
<rect x="1227.5" y="600.5" width="21" height="101" fill="url(#gRd)" stroke="#f27a5a" stroke-width="1"/>
<rect x="1447" y="574" width="606" height="1" fill="#a0a0a0"/>
<rect x="1447" y="590" width="606" height="1" fill="#a4a4a4"/>
<rect x="1447" y="606" width="606" height="1" fill="#b0b0b0"/>
<rect x="1447" y="622" width="606" height="1" fill="#bcbcbc"/>
<rect x="1447" y="638" width="606" height="1" fill="#c8c8c8"/>
<rect x="1447" y="654" width="606" height="1" fill="#c8c8c8"/>
<rect x="1447" y="669" width="606" height="1" fill="#bcbcbc"/>
<rect x="1447" y="685" width="606" height="1" fill="#b0b0b0"/>
<rect x="1447" y="701" width="606" height="1" fill="#a0a0a0"/>
<rect x="1452" y="574" width="1" height="133" fill="#a0a0a0"/>
<rect x="1502" y="701" width="1" height="6" fill="#a0a0a0"/>
<rect x="1552" y="701" width="1" height="6" fill="#a0a0a0"/>
<rect x="1602" y="701" width="1" height="6" fill="#a0a0a0"/>
<rect x="1652" y="701" width="1" height="6" fill="#a0a0a0"/>
<rect x="1702" y="701" width="1" height="6" fill="#a0a0a0"/>
<rect x="1752" y="701" width="1" height="6" fill="#a0a0a0"/>
<rect x="1802" y="701" width="1" height="6" fill="#a0a0a0"/>
<rect x="1852" y="701" width="1" height="6" fill="#a0a0a0"/>
<rect x="1902" y="701" width="1" height="6" fill="#a0a0a0"/>
<rect x="1952" y="701" width="1" height="6" fill="#a0a0a0"/>
<rect x="2002" y="701" width="1" height="6" fill="#a0a0a0"/>
<text x="1441.3" y="578" font-size="10" text-anchor="end" fill="#000" letter-spacing="-0.5" >38000</text>
<text x="1441.3" y="594" font-size="10" text-anchor="end" fill="#000" letter-spacing="-0.5" >33250</text>
<text x="1441.3" y="610" font-size="10" text-anchor="end" fill="#000" letter-spacing="-0.5" >28500</text>
<text x="1441.3" y="626" font-size="10" text-anchor="end" fill="#000" letter-spacing="-0.5" >23750</text>
<text x="1441.3" y="642" font-size="10" text-anchor="end" fill="#000" letter-spacing="-0.5" >19000</text>
<text x="1441.3" y="658" font-size="10" text-anchor="end" fill="#000" letter-spacing="-0.5" >14250</text>
<text x="1441.3" y="673" font-size="10" text-anchor="end" fill="#000" letter-spacing="-0.5" >9500</text>
<text x="1441.3" y="689" font-size="10" text-anchor="end" fill="#000" letter-spacing="-0.5" >4750</text>
<text x="1441.3" y="705" font-size="10" text-anchor="end" fill="#000" letter-spacing="-0.5" >0</text>
<text x="1451.0" y="568.5" font-size="12.1" text-anchor="start" fill="#000" letter-spacing="0.04" >Profits and losses by months</text>
<text x="1465.6" y="716" font-size="10" text-anchor="start" fill="#000" letter-spacing="-0.3" >Jan</text>
<text x="1515.6" y="716" font-size="10" text-anchor="start" fill="#000" letter-spacing="-0.3" >Feb</text>
<text x="1565.6" y="716" font-size="10" text-anchor="start" fill="#000" letter-spacing="-0.3" >Mar</text>
<text x="1615.6" y="716" font-size="10" text-anchor="start" fill="#000" letter-spacing="-0.3" >Apr</text>
<text x="1665.6" y="716" font-size="10" text-anchor="start" fill="#000" letter-spacing="-0.3" >May</text>
<text x="1715.6" y="716" font-size="10" text-anchor="start" fill="#000" letter-spacing="-0.3" >Jun</text>
<text x="1765.6" y="716" font-size="10" text-anchor="start" fill="#000" letter-spacing="-0.3" >Jul</text>
<text x="1815.6" y="716" font-size="10" text-anchor="start" fill="#000" letter-spacing="-0.3" >Aug</text>
<text x="1865.6" y="716" font-size="10" text-anchor="start" fill="#000" letter-spacing="-0.3" >Sep</text>
<text x="1915.6" y="716" font-size="10" text-anchor="start" fill="#000" letter-spacing="-0.3" >Oct</text>
<text x="1965.6" y="716" font-size="10" text-anchor="start" fill="#000" letter-spacing="-0.3" >Nov</text>
<text x="2015.6" y="716" font-size="10" text-anchor="start" fill="#000" letter-spacing="-0.3" >Dec</text>
<rect x="1464.5" y="652.5" width="12" height="49" fill="url(#gBl)" stroke="#6c96e2" stroke-width="1"/>
<rect x="1477.5" y="652.5" width="12" height="49" fill="url(#gRd)" stroke="#f27a5a" stroke-width="1"/>
<rect x="1514.5" y="656.5" width="12" height="45" fill="url(#gBl)" stroke="#6c96e2" stroke-width="1"/>
<rect x="1527.5" y="670.5" width="12" height="31" fill="url(#gRd)" stroke="#f27a5a" stroke-width="1"/>
<rect x="1564.5" y="648.5" width="12" height="53" fill="url(#gBl)" stroke="#6c96e2" stroke-width="1"/>
<rect x="1577.5" y="663.5" width="12" height="38" fill="url(#gRd)" stroke="#f27a5a" stroke-width="1"/>
<rect x="1614.5" y="628.5" width="12" height="73" fill="url(#gBl)" stroke="#6c96e2" stroke-width="1"/>
<rect x="1627.5" y="635.5" width="12" height="66" fill="url(#gRd)" stroke="#f27a5a" stroke-width="1"/>
<rect x="1664.5" y="635.5" width="12" height="66" fill="url(#gBl)" stroke="#6c96e2" stroke-width="1"/>
<rect x="1677.5" y="647.5" width="12" height="54" fill="url(#gRd)" stroke="#f27a5a" stroke-width="1"/>
<rect x="1714.5" y="634.5" width="12" height="67" fill="url(#gBl)" stroke="#6c96e2" stroke-width="1"/>
<rect x="1727.5" y="655.5" width="12" height="46" fill="url(#gRd)" stroke="#f27a5a" stroke-width="1"/>
<rect x="1764.5" y="641.5" width="12" height="60" fill="url(#gBl)" stroke="#6c96e2" stroke-width="1"/>
<rect x="1777.5" y="666.5" width="12" height="35" fill="url(#gRd)" stroke="#f27a5a" stroke-width="1"/>
<rect x="1814.5" y="639.5" width="12" height="62" fill="url(#gBl)" stroke="#6c96e2" stroke-width="1"/>
<rect x="1827.5" y="664.5" width="12" height="37" fill="url(#gRd)" stroke="#f27a5a" stroke-width="1"/>
<rect x="1864.5" y="614.5" width="12" height="87" fill="url(#gBl)" stroke="#6c96e2" stroke-width="1"/>
<rect x="1877.5" y="626.5" width="12" height="75" fill="url(#gRd)" stroke="#f27a5a" stroke-width="1"/>
<rect x="1914.5" y="582.5" width="12" height="119" fill="url(#gBl)" stroke="#6c96e2" stroke-width="1"/>
<rect x="1927.5" y="575.5" width="12" height="126" fill="url(#gRd)" stroke="#f27a5a" stroke-width="1"/>
<rect x="1964.5" y="629.5" width="12" height="72" fill="url(#gBl)" stroke="#6c96e2" stroke-width="1"/>
<rect x="1977.5" y="665.5" width="12" height="36" fill="url(#gRd)" stroke="#f27a5a" stroke-width="1"/>
<rect x="2014.5" y="619.5" width="12" height="82" fill="url(#gBl)" stroke="#6c96e2" stroke-width="1"/>
<rect x="2027.5" y="650.5" width="12" height="51" fill="url(#gRd)" stroke="#f27a5a" stroke-width="1"/>
<rect x="24" y="742" width="2049" height="19" fill="#e9e9e9" />
<text x="27.3" y="756" font-size="12" text-anchor="start" fill="#000" textLength="130" lengthAdjust="spacingAndGlyphs" >Correlation (Profits,MFE)</text>
<text x="680.35" y="756" font-size="12" text-anchor="end" fill="#000" letter-spacing="-0.65" >0.64</text>
<text x="720.3" y="756" font-size="12" text-anchor="start" fill="#000" textLength="132.4" lengthAdjust="spacingAndGlyphs" >Correlation (Profits,MAE)</text>
<text x="1373.25" y="756" font-size="12" text-anchor="end" fill="#000" letter-spacing="-0.65" >0.29</text>
<text x="1413.3" y="756" font-size="12" text-anchor="start" fill="#000" textLength="121.3" lengthAdjust="spacingAndGlyphs" >Correlation (MFE,MAE)</text>
<text x="2068.65" y="756" font-size="12" text-anchor="end" fill="#000" letter-spacing="-0.65" >-0.3969</text>
<g>
<rect x="61" y="775" width="1999" height="1" fill="#a0a0a0"/>
<rect x="61" y="793" width="1999" height="1" fill="#dadada"/>
<rect x="61" y="812" width="1999" height="1" fill="#dadada"/>
<rect x="61" y="830" width="1999" height="1" fill="#dadada"/>
<rect x="61" y="848" width="1999" height="1" fill="#dadada"/>
<rect x="61" y="866" width="1999" height="2" fill="#cfcfcf"/>
<rect x="61" y="885" width="1999" height="1" fill="#dadada"/>
<rect x="61" y="903" width="1999" height="1" fill="#dadada"/>
<rect x="61" y="922" width="1999" height="1" fill="#dadada"/>
<rect x="256" y="775" width="1" height="154" fill="#d8d8d8"/>
<rect x="445" y="775" width="1" height="154" fill="#d8d8d8"/>
<rect x="634" y="775" width="1" height="154" fill="#d8d8d8"/>
<rect x="824" y="775" width="1" height="154" fill="#d8d8d8"/>
<rect x="1013" y="775" width="1" height="154" fill="#d8d8d8"/>
<rect x="1203" y="775" width="1" height="154" fill="#d8d8d8"/>
<rect x="1392" y="775" width="1" height="154" fill="#d8d8d8"/>
<rect x="1581" y="775" width="1" height="154" fill="#d8d8d8"/>
<rect x="1771" y="775" width="1" height="154" fill="#d8d8d8"/>
<rect x="1960" y="775" width="1" height="154" fill="#d8d8d8"/>
<rect x="66" y="775" width="1" height="154" fill="#a0a0a0"/>
<rect x="2059" y="775" width="1" height="154" fill="#a8a8a8"/>
<text x="55.2" y="779" font-size="10" text-anchor="end" fill="#000" letter-spacing="-0.5" >3400</text>
<text x="55.2" y="797" font-size="10" text-anchor="end" fill="#000" letter-spacing="-0.5" >2720</text>
<text x="55.2" y="816" font-size="10" text-anchor="end" fill="#000" letter-spacing="-0.5" >2040</text>
<text x="55.2" y="834" font-size="10" text-anchor="end" fill="#000" letter-spacing="-0.5" >1360</text>
<text x="55.2" y="852" font-size="10" text-anchor="end" fill="#000" letter-spacing="-0.5" >680</text>
<text x="55.2" y="871" font-size="10" text-anchor="end" fill="#000" letter-spacing="-0.5" >0</text>
<text x="55.2" y="889" font-size="10" text-anchor="end" fill="#000" letter-spacing="-0.5" >-680</text>
<text x="55.2" y="907" font-size="10" text-anchor="end" fill="#000" letter-spacing="-0.5" >-1360</text>
<text x="55.2" y="926" font-size="10" text-anchor="end" fill="#000" letter-spacing="-0.5" >-2040</text>
<text x="72.6" y="788" font-size="10" text-anchor="start" fill="#000" letter-spacing="-0.1" >Profit</text>
<g clip-path="url(#scClip)">
<polygon points="66.3,870.1 82.9,867.2 89.8,865.8 105.8,864.6 123.0,863.5 139.0,862.6 151.7,861.5 167.7,860.6 180.0,860.3 204.4,859.1 238.8,856.9 256.0,856.1 273.2,855.0 290.4,854.8 290.4,854.0 273.2,856.2 256.0,857.0 238.8,858.3 204.4,860.9 180.0,862.0 168.9,863.7 151.7,864.3 140.2,864.9 123.0,865.2 114.4,865.7 103.0,866.6" fill="#3366cc"/>
<polygon points="66.6,867.6 90.0,866.8 103.0,864.5 103.0,871.2 115.0,874.3 117.3,875.3 128.8,875.3 143.0,876.9 147.0,879.3 157.4,881.0 159.7,883.3 146.0,881.5 140.2,879.8 131.6,885.5 125.9,885.5 120.2,883.2 117.3,886.7 105.8,886.7 100.1,884.9 90.4,887.2 83.0,883.2 78.3,887.2 71.5,887.7 70.3,890.7 66.6,890.1" fill="#3366cc"/>
<circle cx="296.8" cy="854.2" r="2.3" fill="#3366cc"/>
<circle cx="303.1" cy="852.6" r="2.3" fill="#3366cc"/>
<circle cx="306.4" cy="861.2" r="2.3" fill="#3366cc"/>
<circle cx="310.7" cy="854.6" r="2.3" fill="#3366cc"/>
<circle cx="314.9" cy="854.2" r="2.3" fill="#3366cc"/>
<circle cx="317.8" cy="852.3" r="2.3" fill="#3366cc"/>
<circle cx="321.6" cy="853.6" r="2.3" fill="#3366cc"/>
<circle cx="329.3" cy="851.3" r="2.3" fill="#3366cc"/>
<circle cx="331.2" cy="855.5" r="2.3" fill="#3366cc"/>
<circle cx="336.0" cy="850.7" r="2.3" fill="#3366cc"/>
<circle cx="337.9" cy="853.6" r="2.3" fill="#3366cc"/>
<circle cx="342.6" cy="857.4" r="2.3" fill="#3366cc"/>
<circle cx="343.6" cy="861.8" r="2.3" fill="#3366cc"/>
<circle cx="347.4" cy="849.8" r="2.3" fill="#3366cc"/>
<circle cx="344.5" cy="850.7" r="2.3" fill="#3366cc"/>
<circle cx="359.3" cy="849.2" r="2.3" fill="#3366cc"/>
<circle cx="373.2" cy="847.9" r="2.3" fill="#3366cc"/>
<circle cx="376.1" cy="849.2" r="2.3" fill="#3366cc"/>
<circle cx="378.9" cy="854.6" r="2.3" fill="#3366cc"/>
<circle cx="383.7" cy="847.3" r="2.3" fill="#3366cc"/>
<circle cx="391.4" cy="847.9" r="2.3" fill="#3366cc"/>
<circle cx="392.9" cy="850.7" r="2.3" fill="#3366cc"/>
<circle cx="397.1" cy="846.9" r="2.3" fill="#3366cc"/>
<circle cx="402.8" cy="847.9" r="2.3" fill="#3366cc"/>
<circle cx="404.3" cy="851.7" r="2.3" fill="#3366cc"/>
<circle cx="407.6" cy="851.3" r="2.3" fill="#3366cc"/>
<circle cx="413.3" cy="846.9" r="2.3" fill="#3366cc"/>
<circle cx="418.1" cy="845.0" r="2.3" fill="#3366cc"/>
<circle cx="421.9" cy="845.6" r="2.3" fill="#3366cc"/>
<circle cx="423.8" cy="848.8" r="2.3" fill="#3366cc"/>
<circle cx="427.7" cy="846.9" r="2.3" fill="#3366cc"/>
<circle cx="428.0" cy="856.8" r="2.3" fill="#3366cc"/>
<circle cx="431.5" cy="845.0" r="2.3" fill="#3366cc"/>
<circle cx="436.2" cy="846.9" r="2.3" fill="#3366cc"/>
<circle cx="439.1" cy="844.0" r="2.3" fill="#3366cc"/>
<circle cx="441.0" cy="843.7" r="2.3" fill="#3366cc"/>
<circle cx="466.8" cy="841.8" r="2.3" fill="#3366cc"/>
<circle cx="468.7" cy="841.8" r="2.3" fill="#3366cc"/>
<circle cx="473.5" cy="845.6" r="2.3" fill="#3366cc"/>
<circle cx="475.4" cy="841.8" r="2.3" fill="#3366cc"/>
<circle cx="485.9" cy="841.2" r="2.3" fill="#3366cc"/>
<circle cx="486.9" cy="841.8" r="2.3" fill="#3366cc"/>
<circle cx="495.5" cy="841.2" r="2.3" fill="#3366cc"/>
<circle cx="502.1" cy="840.8" r="2.3" fill="#3366cc"/>
<circle cx="506.0" cy="839.3" r="2.3" fill="#3366cc"/>
<circle cx="509.8" cy="844.0" r="2.3" fill="#3366cc"/>
<circle cx="523.5" cy="846.5" r="2.3" fill="#3366cc"/>
<circle cx="530.8" cy="837.4" r="2.3" fill="#3366cc"/>
<circle cx="531.8" cy="840.6" r="2.3" fill="#3366cc"/>
<circle cx="532.3" cy="837.4" r="2.3" fill="#3366cc"/>
<circle cx="575.7" cy="835.1" r="2.3" fill="#3366cc"/>
<circle cx="577.6" cy="839.3" r="2.3" fill="#3366cc"/>
<circle cx="576.6" cy="847.3" r="2.3" fill="#3366cc"/>
<circle cx="579.5" cy="846.0" r="2.3" fill="#3366cc"/>
<circle cx="581.4" cy="854.0" r="2.3" fill="#3366cc"/>
<circle cx="587.2" cy="837.0" r="2.3" fill="#3366cc"/>
<circle cx="590.0" cy="840.6" r="2.3" fill="#3366cc"/>
<circle cx="612.6" cy="834.1" r="2.3" fill="#3366cc"/>
<circle cx="636.8" cy="831.1" r="2.3" fill="#3366cc"/>
<circle cx="669.0" cy="828.8" r="2.3" fill="#3366cc"/>
<circle cx="676.7" cy="828.8" r="2.3" fill="#3366cc"/>
<circle cx="682.0" cy="828.8" r="2.3" fill="#3366cc"/>
<circle cx="673.0" cy="841.2" r="2.3" fill="#3366cc"/>
<circle cx="731.1" cy="824.6" r="2.3" fill="#3366cc"/>
<circle cx="739.9" cy="825.5" r="2.3" fill="#3366cc"/>
<circle cx="742.8" cy="829.9" r="2.3" fill="#3366cc"/>
<circle cx="743.2" cy="841.8" r="2.3" fill="#3366cc"/>
<circle cx="751.7" cy="825.5" r="2.3" fill="#3366cc"/>
<circle cx="756.0" cy="837.4" r="2.3" fill="#3366cc"/>
<circle cx="791.9" cy="822.3" r="2.3" fill="#3366cc"/>
<circle cx="822.4" cy="825.5" r="2.3" fill="#3366cc"/>
<circle cx="841.5" cy="820.4" r="2.3" fill="#3366cc"/>
<circle cx="866.0" cy="825.5" r="2.3" fill="#3366cc"/>
<circle cx="899.2" cy="814.8" r="2.3" fill="#3366cc"/>
<circle cx="922.7" cy="828.8" r="2.3" fill="#3366cc"/>
<circle cx="932.3" cy="854.0" r="2.3" fill="#3366cc"/>
<circle cx="964.7" cy="809.3" r="2.3" fill="#3366cc"/>
<circle cx="968.9" cy="813.9" r="2.3" fill="#3366cc"/>
<circle cx="971.0" cy="816.0" r="2.3" fill="#3366cc"/>
<circle cx="1179.8" cy="811.6" r="2.3" fill="#3366cc"/>
<circle cx="1324.2" cy="785.8" r="2.3" fill="#3366cc"/>
<circle cx="1468.4" cy="785.6" r="2.3" fill="#3366cc"/>
<circle cx="1683.0" cy="779.4" r="2.3" fill="#3366cc"/>
<circle cx="1954.7" cy="777.2" r="2.3" fill="#3366cc"/>
<circle cx="310.4" cy="854.4" r="2.3" fill="#3366cc"/>
<circle cx="314.0" cy="854.4" r="2.3" fill="#3366cc"/>
<circle cx="317.5" cy="850.8" r="2.3" fill="#3366cc"/>
<circle cx="321.1" cy="851.5" r="2.3" fill="#3366cc"/>
<circle cx="322.5" cy="854.4" r="2.3" fill="#3366cc"/>
<circle cx="329.7" cy="852.2" r="2.3" fill="#3366cc"/>
<circle cx="331.1" cy="855.8" r="2.3" fill="#3366cc"/>
<circle cx="335.4" cy="850.8" r="2.3" fill="#3366cc"/>
<circle cx="337.6" cy="853.7" r="2.3" fill="#3366cc"/>
<circle cx="340.5" cy="852.2" r="2.3" fill="#3366cc"/>
<circle cx="343.3" cy="850.8" r="2.3" fill="#3366cc"/>
<circle cx="346.9" cy="850.1" r="2.3" fill="#3366cc"/>
<circle cx="342.6" cy="857.5" r="2.3" fill="#3366cc"/>
<circle cx="344.0" cy="861.8" r="2.3" fill="#3366cc"/>
<circle cx="373.4" cy="847.9" r="2.3" fill="#3366cc"/>
<circle cx="375.6" cy="849.4" r="2.3" fill="#3366cc"/>
<circle cx="378.4" cy="854.4" r="2.3" fill="#3366cc"/>
<circle cx="383.4" cy="847.2" r="2.3" fill="#3366cc"/>
<circle cx="391.3" cy="847.9" r="2.3" fill="#3366cc"/>
<circle cx="393.5" cy="850.8" r="2.3" fill="#3366cc"/>
<circle cx="394.9" cy="847.2" r="2.3" fill="#3366cc"/>
<circle cx="398.5" cy="847.2" r="2.3" fill="#3366cc"/>
<circle cx="402.8" cy="846.5" r="2.3" fill="#3366cc"/>
<circle cx="404.2" cy="850.1" r="2.3" fill="#3366cc"/>
<circle cx="407.8" cy="851.5" r="2.3" fill="#3366cc"/>
<circle cx="412.8" cy="847.2" r="2.3" fill="#3366cc"/>
<circle cx="415.0" cy="846.5" r="2.3" fill="#3366cc"/>
<circle cx="418.5" cy="844.4" r="2.3" fill="#3366cc"/>
<circle cx="422.1" cy="845.1" r="2.3" fill="#3366cc"/>
<circle cx="423.6" cy="848.7" r="2.3" fill="#3366cc"/>
<circle cx="426.4" cy="846.5" r="2.3" fill="#3366cc"/>
<circle cx="429.3" cy="847.9" r="2.3" fill="#3366cc"/>
<circle cx="427.9" cy="857.0" r="2.3" fill="#3366cc"/>
<circle cx="432.1" cy="845.1" r="2.3" fill="#3366cc"/>
<circle cx="436.4" cy="846.5" r="2.3" fill="#3366cc"/>
<circle cx="437.9" cy="844.4" r="2.3" fill="#3366cc"/>
<circle cx="440.0" cy="843.6" r="2.3" fill="#3366cc"/>
<circle cx="465.8" cy="841.5" r="2.3" fill="#3366cc"/>
<circle cx="468.7" cy="841.5" r="2.3" fill="#3366cc"/>
<circle cx="473.7" cy="845.1" r="2.3" fill="#3366cc"/>
<circle cx="475.1" cy="841.5" r="2.3" fill="#3366cc"/>
<circle cx="300.5" cy="854.4" r="2.3" fill="#3366cc"/>
<circle cx="304.8" cy="854.4" r="2.3" fill="#3366cc"/>
<circle cx="299.0" cy="852.5" r="2.3" fill="#3366cc"/>
<circle cx="251.5" cy="902.3" r="2.3" fill="#3366cc"/>
<circle cx="259.9" cy="910.3" r="2.3" fill="#3366cc"/>
<circle cx="267.6" cy="901.4" r="2.3" fill="#3366cc"/>
<circle cx="284.4" cy="894.7" r="2.3" fill="#3366cc"/>
<circle cx="316.5" cy="905.2" r="2.3" fill="#3366cc"/>
<circle cx="325.1" cy="919.7" r="2.3" fill="#3366cc"/>
<circle cx="374.5" cy="904.2" r="2.3" fill="#3366cc"/>
<circle cx="386.2" cy="908.2" r="2.3" fill="#3366cc"/>
<circle cx="387.2" cy="914.9" r="2.3" fill="#3366cc"/>
<circle cx="457.6" cy="915.9" r="2.3" fill="#3366cc"/>
<circle cx="69.2" cy="891.5" r="2.3" fill="#3366cc"/>
<circle cx="68.9" cy="905.6" r="2.3" fill="#3366cc"/>
<circle cx="69.4" cy="907.7" r="2.3" fill="#3366cc"/>
<circle cx="76.2" cy="902.5" r="2.3" fill="#3366cc"/>
<circle cx="79.7" cy="905.4" r="2.3" fill="#3366cc"/>
<circle cx="78.3" cy="887.8" r="2.3" fill="#3366cc"/>
<circle cx="85.4" cy="891.5" r="2.3" fill="#3366cc"/>
<circle cx="96.2" cy="894.9" r="2.3" fill="#3366cc"/>
<circle cx="104.6" cy="888.3" r="2.3" fill="#3366cc"/>
<circle cx="114.1" cy="892.0" r="2.3" fill="#3366cc"/>
<circle cx="116.2" cy="906.5" r="2.3" fill="#3366cc"/>
<circle cx="121.4" cy="892.8" r="2.3" fill="#3366cc"/>
<circle cx="128.8" cy="902.5" r="2.3" fill="#3366cc"/>
<circle cx="133.5" cy="897.6" r="2.3" fill="#3366cc"/>
<circle cx="138.8" cy="890.9" r="2.3" fill="#3366cc"/>
<circle cx="139.3" cy="886.2" r="2.3" fill="#3366cc"/>
<circle cx="146.6" cy="890.9" r="2.3" fill="#3366cc"/>
<circle cx="150.3" cy="888.3" r="2.3" fill="#3366cc"/>
<circle cx="152.9" cy="887.3" r="2.3" fill="#3366cc"/>
<circle cx="156.1" cy="894.9" r="2.3" fill="#3366cc"/>
<circle cx="160.3" cy="892.0" r="2.3" fill="#3366cc"/>
<circle cx="162.4" cy="894.9" r="2.3" fill="#3366cc"/>
<circle cx="162.7" cy="918.0" r="2.3" fill="#3366cc"/>
<circle cx="161.9" cy="885.7" r="2.3" fill="#3366cc"/>
<circle cx="166.1" cy="879.4" r="2.3" fill="#3366cc"/>
<circle cx="167.7" cy="887.8" r="2.3" fill="#3366cc"/>
<circle cx="170.8" cy="881.5" r="2.3" fill="#3366cc"/>
<circle cx="171.9" cy="887.3" r="2.3" fill="#3366cc"/>
<circle cx="172.2" cy="902.5" r="2.3" fill="#3366cc"/>
<circle cx="177.1" cy="895.1" r="2.3" fill="#3366cc"/>
<circle cx="180.3" cy="893.6" r="2.3" fill="#3366cc"/>
<circle cx="180.3" cy="887.8" r="2.3" fill="#3366cc"/>
<circle cx="182.9" cy="884.6" r="2.3" fill="#3366cc"/>
<circle cx="184.5" cy="882.0" r="2.3" fill="#3366cc"/>
<circle cx="189.2" cy="892.8" r="2.3" fill="#3366cc"/>
<circle cx="190.8" cy="886.2" r="2.3" fill="#3366cc"/>
<circle cx="193.9" cy="908.3" r="2.3" fill="#3366cc"/>
<circle cx="197.6" cy="892.0" r="2.3" fill="#3366cc"/>
<circle cx="200.2" cy="905.4" r="2.3" fill="#3366cc"/>
<circle cx="200.5" cy="914.0" r="2.3" fill="#3366cc"/>
<circle cx="200.7" cy="885.5" r="2.3" fill="#3366cc"/>
<circle cx="205.5" cy="883.6" r="2.3" fill="#3366cc"/>
<circle cx="207.1" cy="890.9" r="2.3" fill="#3366cc"/>
<circle cx="211.3" cy="886.2" r="2.3" fill="#3366cc"/>
<circle cx="220.7" cy="887.8" r="2.3" fill="#3366cc"/>
<circle cx="220.5" cy="900.6" r="2.3" fill="#3366cc"/>
<circle cx="223.3" cy="888.3" r="2.3" fill="#3366cc"/>
<circle cx="227.0" cy="892.0" r="2.3" fill="#3366cc"/>
<circle cx="228.6" cy="893.0" r="2.3" fill="#3366cc"/>
<circle cx="232.8" cy="887.8" r="2.3" fill="#3366cc"/>
<circle cx="243.3" cy="896.7" r="2.3" fill="#3366cc"/>
<circle cx="251.7" cy="902.5" r="2.3" fill="#3366cc"/>
<circle cx="259.6" cy="910.4" r="2.3" fill="#3366cc"/>
<circle cx="85.8" cy="891.3" r="2.3" fill="#3366cc"/>
<circle cx="96.4" cy="894.7" r="2.3" fill="#3366cc"/>
<circle cx="104.7" cy="888.7" r="2.3" fill="#3366cc"/>
<circle cx="114.4" cy="891.8" r="2.3" fill="#3366cc"/>
<circle cx="121.6" cy="892.7" r="2.3" fill="#3366cc"/>
<circle cx="133.6" cy="897.6" r="2.3" fill="#3366cc"/>
<circle cx="139.0" cy="890.7" r="2.3" fill="#3366cc"/>
<circle cx="139.4" cy="885.8" r="2.3" fill="#3366cc"/>
<circle cx="146.8" cy="891.0" r="2.3" fill="#3366cc"/>
<circle cx="151.1" cy="887.2" r="2.3" fill="#3366cc"/>
<circle cx="156.6" cy="894.7" r="2.3" fill="#3366cc"/>
<circle cx="160.6" cy="891.8" r="2.3" fill="#3366cc"/>
<circle cx="162.3" cy="895.0" r="2.3" fill="#3366cc"/>
<circle cx="163.2" cy="885.0" r="2.3" fill="#3366cc"/>
<circle cx="166.6" cy="878.7" r="2.3" fill="#3366cc"/>
<circle cx="171.2" cy="882.1" r="2.3" fill="#3366cc"/>
<circle cx="171.2" cy="887.2" r="2.3" fill="#3366cc"/>
<circle cx="177.5" cy="894.7" r="2.3" fill="#3366cc"/>
<circle cx="179.8" cy="887.8" r="2.3" fill="#3366cc"/>
<circle cx="66.1" cy="869.6" r="2.3" fill="#3366cc"/>
<circle cx="68.6" cy="869.1" r="2.3" fill="#3366cc"/>
<circle cx="70.5" cy="869.2" r="2.3" fill="#3366cc"/>
<circle cx="71.9" cy="869.0" r="2.3" fill="#3366cc"/>
<circle cx="74.0" cy="868.6" r="2.3" fill="#3366cc"/>
<circle cx="76.1" cy="867.7" r="2.3" fill="#3366cc"/>
<circle cx="78.6" cy="868.4" r="2.3" fill="#3366cc"/>
<circle cx="80.3" cy="867.2" r="2.3" fill="#3366cc"/>
<circle cx="83.1" cy="867.8" r="2.3" fill="#3366cc"/>
<circle cx="85.3" cy="866.6" r="2.3" fill="#3366cc"/>
<circle cx="88.2" cy="865.6" r="2.3" fill="#3366cc"/>
<circle cx="90.3" cy="865.5" r="2.3" fill="#3366cc"/>
<circle cx="91.3" cy="865.1" r="2.3" fill="#3366cc"/>
<circle cx="93.5" cy="865.9" r="2.3" fill="#3366cc"/>
<circle cx="95.4" cy="865.5" r="2.3" fill="#3366cc"/>
<circle cx="98.0" cy="865.0" r="2.3" fill="#3366cc"/>
<circle cx="99.9" cy="864.4" r="2.3" fill="#3366cc"/>
<circle cx="101.2" cy="864.5" r="2.3" fill="#3366cc"/>
<circle cx="104.1" cy="864.6" r="2.3" fill="#3366cc"/>
<circle cx="105.5" cy="864.7" r="2.3" fill="#3366cc"/>
<circle cx="107.9" cy="864.2" r="2.3" fill="#3366cc"/>
<circle cx="110.5" cy="864.6" r="2.3" fill="#3366cc"/>
<circle cx="111.9" cy="864.3" r="2.3" fill="#3366cc"/>
<circle cx="114.4" cy="864.6" r="2.3" fill="#3366cc"/>
<circle cx="116.9" cy="863.6" r="2.3" fill="#3366cc"/>
<circle cx="119.4" cy="863.2" r="2.3" fill="#3366cc"/>
<circle cx="120.7" cy="864.0" r="2.3" fill="#3366cc"/>
<circle cx="122.5" cy="863.5" r="2.3" fill="#3366cc"/>
<circle cx="124.4" cy="863.6" r="2.3" fill="#3366cc"/>
<circle cx="127.4" cy="863.4" r="2.3" fill="#3366cc"/>
<circle cx="129.5" cy="862.9" r="2.3" fill="#3366cc"/>
<circle cx="131.3" cy="863.2" r="2.3" fill="#3366cc"/>
<circle cx="133.1" cy="862.9" r="2.3" fill="#3366cc"/>
<circle cx="135.5" cy="863.4" r="2.3" fill="#3366cc"/>
<circle cx="137.0" cy="862.9" r="2.3" fill="#3366cc"/>
<circle cx="138.4" cy="862.9" r="2.3" fill="#3366cc"/>
<circle cx="141.3" cy="863.1" r="2.3" fill="#3366cc"/>
<circle cx="143.7" cy="861.9" r="2.3" fill="#3366cc"/>
<circle cx="145.2" cy="862.3" r="2.3" fill="#3366cc"/>
<circle cx="146.8" cy="861.8" r="2.3" fill="#3366cc"/>
<circle cx="149.1" cy="861.1" r="2.3" fill="#3366cc"/>
<circle cx="151.1" cy="861.9" r="2.3" fill="#3366cc"/>
<circle cx="153.2" cy="861.0" r="2.3" fill="#3366cc"/>
<circle cx="155.5" cy="861.8" r="2.3" fill="#3366cc"/>
<circle cx="157.1" cy="861.1" r="2.3" fill="#3366cc"/>
<circle cx="159.8" cy="861.6" r="2.3" fill="#3366cc"/>
<circle cx="162.1" cy="861.4" r="2.3" fill="#3366cc"/>
<circle cx="163.4" cy="860.7" r="2.3" fill="#3366cc"/>
<circle cx="165.5" cy="861.3" r="2.3" fill="#3366cc"/>
<circle cx="168.3" cy="860.1" r="2.3" fill="#3366cc"/>
<circle cx="169.3" cy="860.2" r="2.3" fill="#3366cc"/>
<circle cx="171.4" cy="860.5" r="2.3" fill="#3366cc"/>
<circle cx="174.0" cy="860.1" r="2.3" fill="#3366cc"/>
<circle cx="175.2" cy="860.3" r="2.3" fill="#3366cc"/>
<circle cx="177.8" cy="860.4" r="2.3" fill="#3366cc"/>
<circle cx="180.6" cy="860.6" r="2.3" fill="#3366cc"/>
<circle cx="182.1" cy="860.4" r="2.3" fill="#3366cc"/>
<circle cx="184.3" cy="859.5" r="2.3" fill="#3366cc"/>
<circle cx="186.7" cy="860.4" r="2.3" fill="#3366cc"/>
<circle cx="188.7" cy="860.3" r="2.3" fill="#3366cc"/>
<circle cx="190.0" cy="859.7" r="2.3" fill="#3366cc"/>
<circle cx="191.6" cy="859.9" r="2.3" fill="#3366cc"/>
<circle cx="193.6" cy="859.0" r="2.3" fill="#3366cc"/>
<circle cx="195.9" cy="859.0" r="2.3" fill="#3366cc"/>
<circle cx="198.1" cy="858.8" r="2.3" fill="#3366cc"/>
<circle cx="199.6" cy="858.8" r="2.3" fill="#3366cc"/>
<circle cx="201.8" cy="859.0" r="2.3" fill="#3366cc"/>
<circle cx="203.7" cy="859.6" r="2.3" fill="#3366cc"/>
<circle cx="206.6" cy="858.5" r="2.3" fill="#3366cc"/>
<circle cx="208.1" cy="858.6" r="2.3" fill="#3366cc"/>
<circle cx="210.3" cy="858.2" r="2.3" fill="#3366cc"/>
<circle cx="213.0" cy="859.3" r="2.3" fill="#3366cc"/>
<circle cx="214.5" cy="858.4" r="2.3" fill="#3366cc"/>
<circle cx="216.0" cy="857.8" r="2.3" fill="#3366cc"/>
<circle cx="218.3" cy="857.9" r="2.3" fill="#3366cc"/>
<circle cx="221.0" cy="857.6" r="2.3" fill="#3366cc"/>
<circle cx="221.9" cy="858.6" r="2.3" fill="#3366cc"/>
<circle cx="224.7" cy="857.3" r="2.3" fill="#3366cc"/>
<circle cx="226.7" cy="857.0" r="2.3" fill="#3366cc"/>
<circle cx="228.7" cy="858.2" r="2.3" fill="#3366cc"/>
<circle cx="231.2" cy="857.7" r="2.3" fill="#3366cc"/>
<circle cx="232.4" cy="857.1" r="2.3" fill="#3366cc"/>
<circle cx="234.3" cy="857.5" r="2.3" fill="#3366cc"/>
<circle cx="236.8" cy="857.4" r="2.3" fill="#3366cc"/>
<circle cx="238.6" cy="856.5" r="2.3" fill="#3366cc"/>
<circle cx="241.4" cy="857.5" r="2.3" fill="#3366cc"/>
<circle cx="243.6" cy="857.1" r="2.3" fill="#3366cc"/>
<circle cx="245.7" cy="856.9" r="2.3" fill="#3366cc"/>
<circle cx="247.0" cy="856.5" r="2.3" fill="#3366cc"/>
<circle cx="249.3" cy="855.7" r="2.3" fill="#3366cc"/>
<circle cx="251.0" cy="856.0" r="2.3" fill="#3366cc"/>
<circle cx="253.5" cy="856.5" r="2.3" fill="#3366cc"/>
<circle cx="256.6" cy="856.0" r="2.3" fill="#3366cc"/>
<circle cx="258.8" cy="856.6" r="2.3" fill="#3366cc"/>
<circle cx="260.9" cy="855.6" r="2.3" fill="#3366cc"/>
<circle cx="262.1" cy="855.3" r="2.3" fill="#3366cc"/>
<circle cx="264.2" cy="855.1" r="2.3" fill="#3366cc"/>
<circle cx="266.9" cy="856.0" r="2.3" fill="#3366cc"/>
<circle cx="269.4" cy="855.2" r="2.3" fill="#3366cc"/>
<circle cx="271.3" cy="855.6" r="2.3" fill="#3366cc"/>
<circle cx="272.6" cy="855.2" r="2.3" fill="#3366cc"/>
<circle cx="275.9" cy="855.4" r="2.3" fill="#3366cc"/>
<circle cx="277.9" cy="854.9" r="2.3" fill="#3366cc"/>
<circle cx="279.2" cy="855.3" r="2.3" fill="#3366cc"/>
<circle cx="281.6" cy="855.3" r="2.3" fill="#3366cc"/>
<circle cx="284.6" cy="854.7" r="2.3" fill="#3366cc"/>
<circle cx="286.0" cy="855.5" r="2.3" fill="#3366cc"/>
<circle cx="288.6" cy="854.4" r="2.3" fill="#3366cc"/>
<circle cx="289.9" cy="853.5" r="2.3" fill="#3366cc"/>
<circle cx="288.8" cy="854.7" r="2.3" fill="#3366cc"/>
<circle cx="285.6" cy="855.0" r="2.3" fill="#3366cc"/>
<circle cx="284.6" cy="855.0" r="2.3" fill="#3366cc"/>
<circle cx="281.6" cy="855.2" r="2.3" fill="#3366cc"/>
<circle cx="279.1" cy="854.7" r="2.3" fill="#3366cc"/>
<circle cx="278.2" cy="855.9" r="2.3" fill="#3366cc"/>
<circle cx="275.4" cy="856.5" r="2.3" fill="#3366cc"/>
<circle cx="273.1" cy="856.7" r="2.3" fill="#3366cc"/>
<circle cx="271.5" cy="855.9" r="2.3" fill="#3366cc"/>
<circle cx="268.6" cy="856.1" r="2.3" fill="#3366cc"/>
<circle cx="266.4" cy="856.6" r="2.3" fill="#3366cc"/>
<circle cx="264.3" cy="856.5" r="2.3" fill="#3366cc"/>
<circle cx="261.9" cy="857.3" r="2.3" fill="#3366cc"/>
<circle cx="260.1" cy="856.7" r="2.3" fill="#3366cc"/>
<circle cx="258.3" cy="857.5" r="2.3" fill="#3366cc"/>
<circle cx="255.9" cy="857.6" r="2.3" fill="#3366cc"/>
<circle cx="253.9" cy="857.2" r="2.3" fill="#3366cc"/>
<circle cx="251.7" cy="856.7" r="2.3" fill="#3366cc"/>
<circle cx="249.5" cy="857.0" r="2.3" fill="#3366cc"/>
<circle cx="246.7" cy="858.1" r="2.3" fill="#3366cc"/>
<circle cx="244.8" cy="857.8" r="2.3" fill="#3366cc"/>
<circle cx="243.4" cy="858.1" r="2.3" fill="#3366cc"/>
<circle cx="240.7" cy="858.2" r="2.3" fill="#3366cc"/>
<circle cx="238.9" cy="858.7" r="2.3" fill="#3366cc"/>
<circle cx="236.2" cy="858.5" r="2.3" fill="#3366cc"/>
<circle cx="234.4" cy="858.3" r="2.3" fill="#3366cc"/>
<circle cx="233.1" cy="858.8" r="2.3" fill="#3366cc"/>
<circle cx="230.8" cy="859.3" r="2.3" fill="#3366cc"/>
<circle cx="229.3" cy="859.0" r="2.3" fill="#3366cc"/>
<circle cx="226.8" cy="859.2" r="2.3" fill="#3366cc"/>
<circle cx="224.7" cy="859.6" r="2.3" fill="#3366cc"/>
<circle cx="222.5" cy="859.6" r="2.3" fill="#3366cc"/>
<circle cx="220.6" cy="860.3" r="2.3" fill="#3366cc"/>
<circle cx="218.8" cy="860.4" r="2.3" fill="#3366cc"/>
<circle cx="217.2" cy="859.6" r="2.3" fill="#3366cc"/>
<circle cx="214.6" cy="860.8" r="2.3" fill="#3366cc"/>
<circle cx="213.0" cy="859.8" r="2.3" fill="#3366cc"/>
<circle cx="209.9" cy="860.4" r="2.3" fill="#3366cc"/>
<circle cx="207.8" cy="860.2" r="2.3" fill="#3366cc"/>
<circle cx="205.8" cy="861.0" r="2.3" fill="#3366cc"/>
<circle cx="204.8" cy="861.5" r="2.3" fill="#3366cc"/>
<circle cx="201.9" cy="861.3" r="2.3" fill="#3366cc"/>
<circle cx="200.6" cy="860.6" r="2.3" fill="#3366cc"/>
<circle cx="198.8" cy="861.8" r="2.3" fill="#3366cc"/>
<circle cx="195.9" cy="861.9" r="2.3" fill="#3366cc"/>
<circle cx="194.1" cy="861.3" r="2.3" fill="#3366cc"/>
<circle cx="192.9" cy="861.9" r="2.3" fill="#3366cc"/>
<circle cx="189.7" cy="861.4" r="2.3" fill="#3366cc"/>
<circle cx="188.2" cy="861.4" r="2.3" fill="#3366cc"/>
<circle cx="185.7" cy="861.5" r="2.3" fill="#3366cc"/>
<circle cx="184.4" cy="861.1" r="2.3" fill="#3366cc"/>
<circle cx="182.1" cy="861.8" r="2.3" fill="#3366cc"/>
<circle cx="179.3" cy="861.8" r="2.3" fill="#3366cc"/>
<circle cx="178.0" cy="862.4" r="2.3" fill="#3366cc"/>
<circle cx="175.0" cy="863.4" r="2.3" fill="#3366cc"/>
<circle cx="173.7" cy="863.7" r="2.3" fill="#3366cc"/>
<circle cx="170.6" cy="863.0" r="2.3" fill="#3366cc"/>
<circle cx="168.3" cy="864.1" r="2.3" fill="#3366cc"/>
<circle cx="166.4" cy="863.3" r="2.3" fill="#3366cc"/>
<circle cx="164.5" cy="864.4" r="2.3" fill="#3366cc"/>
<circle cx="162.9" cy="863.6" r="2.3" fill="#3366cc"/>
<circle cx="159.8" cy="864.6" r="2.3" fill="#3366cc"/>
<circle cx="158.2" cy="864.4" r="2.3" fill="#3366cc"/>
<circle cx="155.4" cy="863.5" r="2.3" fill="#3366cc"/>
<circle cx="154.1" cy="864.1" r="2.3" fill="#3366cc"/>
<circle cx="151.1" cy="864.9" r="2.3" fill="#3366cc"/>
<circle cx="149.6" cy="864.8" r="2.3" fill="#3366cc"/>
<circle cx="146.5" cy="865.0" r="2.3" fill="#3366cc"/>
<circle cx="144.2" cy="865.2" r="2.3" fill="#3366cc"/>
<circle cx="142.4" cy="864.6" r="2.3" fill="#3366cc"/>
<circle cx="140.3" cy="865.5" r="2.3" fill="#3366cc"/>
<circle cx="137.7" cy="864.4" r="2.3" fill="#3366cc"/>
<circle cx="135.9" cy="864.6" r="2.3" fill="#3366cc"/>
<circle cx="133.2" cy="864.5" r="2.3" fill="#3366cc"/>
<circle cx="131.0" cy="864.6" r="2.3" fill="#3366cc"/>
<circle cx="129.2" cy="864.8" r="2.3" fill="#3366cc"/>
<circle cx="127.7" cy="864.8" r="2.3" fill="#3366cc"/>
<circle cx="125.2" cy="864.7" r="2.3" fill="#3366cc"/>
<circle cx="122.8" cy="864.5" r="2.3" fill="#3366cc"/>
<circle cx="120.5" cy="864.6" r="2.3" fill="#3366cc"/>
<circle cx="119.0" cy="865.5" r="2.3" fill="#3366cc"/>
<circle cx="116.1" cy="865.5" r="2.3" fill="#3366cc"/>
<circle cx="115.0" cy="865.1" r="2.3" fill="#3366cc"/>
<circle cx="112.6" cy="865.8" r="2.3" fill="#3366cc"/>
<circle cx="109.8" cy="866.5" r="2.3" fill="#3366cc"/>
<circle cx="107.4" cy="866.2" r="2.3" fill="#3366cc"/>
<circle cx="105.5" cy="867.1" r="2.3" fill="#3366cc"/>
<circle cx="102.8" cy="871.7" r="2.3" fill="#3366cc"/>
<circle cx="105.3" cy="871.9" r="2.3" fill="#3366cc"/>
<circle cx="106.9" cy="872.0" r="2.3" fill="#3366cc"/>
<circle cx="108.4" cy="872.2" r="2.3" fill="#3366cc"/>
<circle cx="110.4" cy="873.6" r="2.3" fill="#3366cc"/>
<circle cx="112.7" cy="873.3" r="2.3" fill="#3366cc"/>
<circle cx="114.4" cy="874.8" r="2.3" fill="#3366cc"/>
<circle cx="117.8" cy="875.5" r="2.3" fill="#3366cc"/>
<circle cx="119.3" cy="874.9" r="2.3" fill="#3366cc"/>
<circle cx="121.6" cy="875.2" r="2.3" fill="#3366cc"/>
<circle cx="123.7" cy="875.2" r="2.3" fill="#3366cc"/>
<circle cx="126.2" cy="875.9" r="2.3" fill="#3366cc"/>
<circle cx="129.5" cy="875.4" r="2.3" fill="#3366cc"/>
<circle cx="130.5" cy="876.2" r="2.3" fill="#3366cc"/>
<circle cx="132.6" cy="875.6" r="2.3" fill="#3366cc"/>
<circle cx="134.2" cy="875.8" r="2.3" fill="#3366cc"/>
<circle cx="136.9" cy="876.2" r="2.3" fill="#3366cc"/>
<circle cx="138.5" cy="876.4" r="2.3" fill="#3366cc"/>
<circle cx="140.3" cy="876.3" r="2.3" fill="#3366cc"/>
<circle cx="142.4" cy="876.8" r="2.3" fill="#3366cc"/>
<circle cx="144.4" cy="877.4" r="2.3" fill="#3366cc"/>
<circle cx="146.7" cy="878.9" r="2.3" fill="#3366cc"/>
<circle cx="149.2" cy="879.7" r="2.3" fill="#3366cc"/>
<circle cx="151.5" cy="880.2" r="2.3" fill="#3366cc"/>
<circle cx="153.5" cy="880.9" r="2.3" fill="#3366cc"/>
<circle cx="155.2" cy="880.4" r="2.3" fill="#3366cc"/>
<circle cx="158.1" cy="880.5" r="2.3" fill="#3366cc"/>
<circle cx="146.3" cy="881.7" r="2.3" fill="#3366cc"/>
<circle cx="143.4" cy="881.4" r="2.3" fill="#3366cc"/>
<circle cx="142.7" cy="880.5" r="2.3" fill="#3366cc"/>
<circle cx="140.5" cy="880.2" r="2.3" fill="#3366cc"/>
<circle cx="138.0" cy="881.0" r="2.3" fill="#3366cc"/>
<circle cx="136.8" cy="882.5" r="2.3" fill="#3366cc"/>
<circle cx="135.5" cy="883.7" r="2.3" fill="#3366cc"/>
<circle cx="133.4" cy="884.9" r="2.3" fill="#3366cc"/>
<circle cx="131.9" cy="885.8" r="2.3" fill="#3366cc"/>
<circle cx="128.4" cy="884.8" r="2.3" fill="#3366cc"/>
<circle cx="125.4" cy="885.3" r="2.3" fill="#3366cc"/>
<circle cx="123.4" cy="885.2" r="2.3" fill="#3366cc"/>
<circle cx="122.2" cy="884.1" r="2.3" fill="#3366cc"/>
<circle cx="120.4" cy="883.5" r="2.3" fill="#3366cc"/>
<circle cx="118.7" cy="884.3" r="2.3" fill="#3366cc"/>
<circle cx="117.7" cy="887.0" r="2.3" fill="#3366cc"/>
<circle cx="115.0" cy="886.7" r="2.3" fill="#3366cc"/>
<circle cx="112.9" cy="886.1" r="2.3" fill="#3366cc"/>
<circle cx="110.7" cy="886.4" r="2.3" fill="#3366cc"/>
<circle cx="107.5" cy="886.4" r="2.3" fill="#3366cc"/>
<circle cx="106.1" cy="886.3" r="2.3" fill="#3366cc"/>
<circle cx="103.3" cy="886.5" r="2.3" fill="#3366cc"/>
<circle cx="100.1" cy="884.7" r="2.3" fill="#3366cc"/>
<circle cx="97.6" cy="885.7" r="2.3" fill="#3366cc"/>
<circle cx="95.6" cy="886.2" r="2.3" fill="#3366cc"/>
<circle cx="93.0" cy="886.0" r="2.3" fill="#3366cc"/>
<circle cx="89.9" cy="886.9" r="2.3" fill="#3366cc"/>
<circle cx="88.9" cy="885.9" r="2.3" fill="#3366cc"/>
<circle cx="86.8" cy="884.5" r="2.3" fill="#3366cc"/>
<circle cx="84.2" cy="883.9" r="2.3" fill="#3366cc"/>
<circle cx="83.2" cy="883.5" r="2.3" fill="#3366cc"/>
<circle cx="81.7" cy="884.2" r="2.3" fill="#3366cc"/>
<circle cx="79.9" cy="885.8" r="2.3" fill="#3366cc"/>
<circle cx="78.3" cy="886.7" r="2.3" fill="#3366cc"/>
<circle cx="76.6" cy="886.9" r="2.3" fill="#3366cc"/>
<circle cx="74.4" cy="888.1" r="2.3" fill="#3366cc"/>
<circle cx="70.8" cy="887.6" r="2.3" fill="#3366cc"/>
<circle cx="70.7" cy="891.4" r="2.3" fill="#3366cc"/>
<circle cx="68.2" cy="890.1" r="2.3" fill="#3366cc"/>
<circle cx="68.6" cy="868.0" r="2.3" fill="#3366cc"/>
<circle cx="68.6" cy="870.0" r="2.3" fill="#3366cc"/>
<circle cx="68.6" cy="872.0" r="2.3" fill="#3366cc"/>
<circle cx="68.6" cy="874.0" r="2.3" fill="#3366cc"/>
<circle cx="68.6" cy="876.0" r="2.3" fill="#3366cc"/>
<circle cx="68.6" cy="878.0" r="2.3" fill="#3366cc"/>
<circle cx="68.6" cy="880.0" r="2.3" fill="#3366cc"/>
<circle cx="68.6" cy="882.0" r="2.3" fill="#3366cc"/>
<circle cx="68.6" cy="884.0" r="2.3" fill="#3366cc"/>
<circle cx="68.6" cy="886.0" r="2.3" fill="#3366cc"/>
<circle cx="68.6" cy="888.0" r="2.3" fill="#3366cc"/>
<circle cx="68.6" cy="890.0" r="2.3" fill="#3366cc"/>
</g>
<circle cx="79.5" cy="882" r="1.1" fill="#ffffff"/>
<circle cx="89.8" cy="884" r="1.0" fill="#ffffff"/>
<circle cx="105.5" cy="882.5" r="1.2" fill="#ffffff"/>
<circle cx="120" cy="882" r="0.9" fill="#ffffff"/>
<circle cx="129" cy="882" r="1.1" fill="#ffffff"/>
<circle cx="136.8" cy="881" r="0.9" fill="#ffffff"/>
</g>
<rect x="2073" y="1" width="17" height="928" fill="#ffffff" />
<rect x="2073" y="1" width="1" height="928" fill="#c4c4c4"/>
<rect x="2089" y="1" width="1" height="928" fill="#c4c4c4"/>
<rect x="2074" y="1" width="15" height="17" fill="#ffffff" />
<rect x="2073" y="18" width="17" height="1" fill="#a8a8a8"/>
<polyline points="2078,12.5 2081.5,8.5 2085,12.5" fill="none" stroke="#606060" stroke-width="1.2"/>
<rect x="2073.5" y="19.5" width="16" height="563" fill="#dcdcdc" stroke="#a6a6a6" stroke-width="1"/>
<rect x="2078" y="297" width="7" height="1" fill="#606060"/>
<rect x="2078" y="300" width="7" height="1" fill="#606060"/>
<rect x="2078" y="303" width="7" height="1" fill="#606060"/>
<rect x="2073" y="912" width="17" height="1" fill="#c4c4c4"/>
<polyline points="2078,918.5 2081.5,922 2085,918.5" fill="none" stroke="#606060" stroke-width="1.2"/>
<rect x="24" y="929" width="2066" height="1" fill="#000000"/>
<rect x="22" y="930" width="2068" height="24" fill="#f0f0f0" />
<path d="M213.5,929.5 V948.5 H276.5 V929.5" fill="#ffffff" stroke="#000" stroke-width="1"/>
<rect x="214" y="929" width="62" height="1" fill="#ffffff" />
<text x="39.2" y="943" font-size="12" text-anchor="start" fill="#6d6d6d" textLength="49.5" lengthAdjust="spacingAndGlyphs" >Overview</text>
<text x="107.6" y="943" font-size="12" text-anchor="start" fill="#6d6d6d" textLength="43" lengthAdjust="spacingAndGlyphs" >Settings</text>
<text x="169.8" y="943" font-size="12" text-anchor="start" fill="#6d6d6d" textLength="33.8" lengthAdjust="spacingAndGlyphs" >Inputs</text>
<text x="223" y="943" font-size="12" text-anchor="start" fill="#000" textLength="44.4" lengthAdjust="spacingAndGlyphs" >Backtest</text>
<text x="287" y="943" font-size="12" text-anchor="start" fill="#6d6d6d" textLength="32.6" lengthAdjust="spacingAndGlyphs" >Graph</text>
<text x="338.8" y="943" font-size="12" text-anchor="start" fill="#6d6d6d" textLength="38" lengthAdjust="spacingAndGlyphs" >Agents</text>
<text x="395.2" y="943" font-size="12" text-anchor="start" fill="#6d6d6d" textLength="38.8" lengthAdjust="spacingAndGlyphs" >Journal</text>
<rect x="98" y="933" width="1" height="14" fill="#6d6d6d"/>
<rect x="160" y="933" width="1" height="14" fill="#6d6d6d"/>
<rect x="329" y="933" width="1" height="14" fill="#6d6d6d"/>
<rect x="386" y="933" width="1" height="14" fill="#6d6d6d"/>
<text x="1910.5" y="945" font-size="12" text-anchor="start" fill="#000" textLength="95.2" lengthAdjust="spacingAndGlyphs" >00:00:41 / 00:00:41</text>
<rect x="2015.5" y="932.5" width="73" height="17" fill="#9ccc65" stroke="#8cc152" stroke-width="1"/>
<text x="2039.8" y="945" font-size="12" text-anchor="start" fill="#000" textLength="24.4" lengthAdjust="spacingAndGlyphs" >Start</text>
<text x="0" y="0" font-size="12" fill="#1b2a4a" textLength="76.3" lengthAdjust="spacingAndGlyphs" transform="translate(18.5,948.5) rotate(-90)">Strategy Tester</text>
<rect x="6" y="954" width="2084" height="1" fill="#a0a0a0"/>
<rect x="6" y="955" width="2084" height="1" fill="#ffffff"/>
<rect x="6" y="956" width="2084" height="20" fill="#f0f0f0" />
<text x="8" y="970" font-size="12" text-anchor="start" fill="#000" textLength="92.8" lengthAdjust="spacingAndGlyphs" >For Help, press F1</text>
<rect x="1397" y="957" width="1" height="18" fill="#a0a0a0"/>
<rect x="1525" y="957" width="1" height="18" fill="#a0a0a0"/>
<rect x="1623" y="957" width="1" height="18" fill="#a0a0a0"/>
<rect x="1694" y="957" width="1" height="18" fill="#a0a0a0"/>
<rect x="1765" y="957" width="1" height="18" fill="#a0a0a0"/>
<rect x="1833" y="957" width="1" height="18" fill="#a0a0a0"/>
<rect x="1903" y="957" width="1" height="18" fill="#a0a0a0"/>
<rect x="1969" y="957" width="1" height="18" fill="#a0a0a0"/>
<text x="1403" y="970" font-size="12" text-anchor="start" fill="#000" >Default</text>
<text x="1994.5" y="970" font-size="12" text-anchor="start" fill="#000" textLength="70.5" lengthAdjust="spacingAndGlyphs" >9506 / 145 Kb</text>
<rect x="1975" y="967" width="2" height="3" fill="#3aa04a" />
<rect x="1978" y="965" width="2" height="5" fill="#3aa04a" />
<rect x="1981" y="963" width="2" height="7" fill="#3aa04a" />
<rect x="1984" y="961" width="2" height="9" fill="#c8c8c8" />
<rect x="2086" y="972" width="1.5" height="1.5" fill="#a8a8a8" />
<rect x="2086" y="969" width="1.5" height="1.5" fill="#a8a8a8" />
<rect x="2083" y="972" width="1.5" height="1.5" fill="#a8a8a8" />
<rect x="2086" y="966" width="1.5" height="1.5" fill="#a8a8a8" />
<rect x="2083" y="969" width="1.5" height="1.5" fill="#a8a8a8" />
<rect x="2080" y="972" width="1.5" height="1.5" fill="#a8a8a8" /></svg>
</body></html>
